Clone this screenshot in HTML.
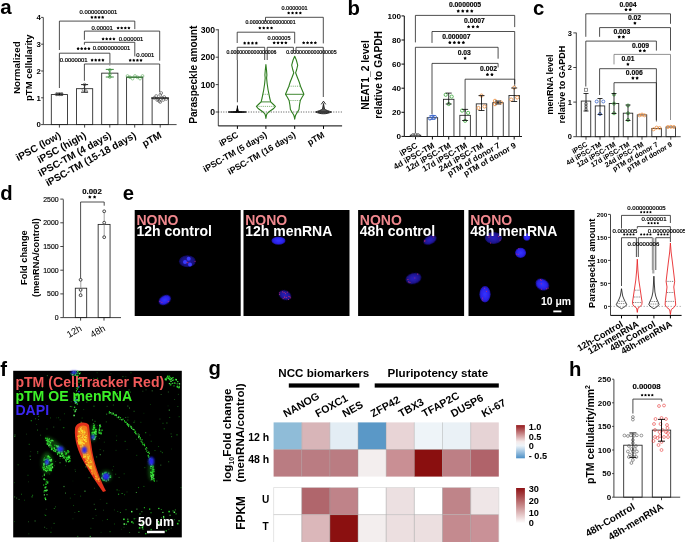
<!DOCTYPE html>
<html><head><meta charset="utf-8"><style>
html,body{margin:0;padding:0;background:#fff;width:685px;height:542px;overflow:hidden}
svg{display:block;will-change:transform}
text{font-family:"Liberation Sans",sans-serif;font-weight:bold}
</style></head><body>
<svg width="685" height="542" viewBox="0 0 685 542">
<defs>
<filter id="bl05" x="-50%" y="-50%" width="200%" height="200%"><feGaussianBlur stdDeviation="0.6"/></filter>
<filter id="bl1" x="-50%" y="-50%" width="200%" height="200%"><feGaussianBlur stdDeviation="0.8"/></filter>
<filter id="bl2" x="-50%" y="-50%" width="200%" height="200%"><feGaussianBlur stdDeviation="1.5"/></filter>
</defs>
<text x="0.3" y="14.4" font-size="20.5">a</text>
<text x="347.5" y="14.5" font-size="20.3">b</text>
<text x="533" y="14.6" font-size="20.3">c</text>
<text x="0.3" y="200.3" font-size="20.3">d</text>
<text x="122.7" y="199.9" font-size="20.3">e</text>
<text x="0.2" y="375.5" font-size="20.3">f</text>
<text x="208.5" y="374.8" font-size="20.3">g</text>
<text x="569" y="375.7" font-size="20.3">h</text>
<line x1="43.3" y1="17.5" x2="43.3" y2="124.6" stroke="#222" stroke-width="0.85"/>
<line x1="41.1" y1="124.6" x2="43.3" y2="124.6" stroke="#222" stroke-width="0.85"/>
<text x="40.9" y="127.41" font-size="7.8" text-anchor="end">0</text>
<line x1="41.1" y1="97.8" x2="43.3" y2="97.8" stroke="#222" stroke-width="0.85"/>
<text x="40.9" y="100.61" font-size="7.8" text-anchor="end">1</text>
<line x1="41.1" y1="71" x2="43.3" y2="71" stroke="#222" stroke-width="0.85"/>
<text x="40.9" y="73.81" font-size="7.8" text-anchor="end">2</text>
<line x1="41.1" y1="44.2" x2="43.3" y2="44.2" stroke="#222" stroke-width="0.85"/>
<text x="40.9" y="47.01" font-size="7.8" text-anchor="end">3</text>
<line x1="41.1" y1="17.4" x2="43.3" y2="17.4" stroke="#222" stroke-width="0.85"/>
<text x="40.9" y="20.21" font-size="7.8" text-anchor="end">4</text>
<line x1="43.3" y1="124.6" x2="176.6" y2="124.6" stroke="#222" stroke-width="0.85"/>
<line x1="59.4" y1="124.6" x2="59.4" y2="127.6" stroke="#222" stroke-width="0.85"/>
<line x1="84.6" y1="124.6" x2="84.6" y2="127.6" stroke="#222" stroke-width="0.85"/>
<line x1="109.8" y1="124.6" x2="109.8" y2="127.6" stroke="#222" stroke-width="0.85"/>
<line x1="134.7" y1="124.6" x2="134.7" y2="127.6" stroke="#222" stroke-width="0.85"/>
<line x1="160.2" y1="124.6" x2="160.2" y2="127.6" stroke="#222" stroke-width="0.85"/>
<rect x="51.3" y="94.58" width="16.2" height="30.02" fill="none" stroke="#222" stroke-width="0.85"/>
<rect x="76.5" y="88.69" width="16.2" height="35.91" fill="none" stroke="#222" stroke-width="0.85"/>
<rect x="101.7" y="73.14" width="16.2" height="51.46" fill="none" stroke="#222" stroke-width="0.85"/>
<rect x="126.6" y="77.16" width="16.2" height="47.44" fill="none" stroke="#222" stroke-width="0.85"/>
<rect x="152.1" y="98.07" width="16.2" height="26.53" fill="none" stroke="#222" stroke-width="0.85"/>
<path d="M59.4 50V21.1H134.8V29.1" stroke="#222" stroke-width="0.8" fill="none"/>
<path d="M84.4 39.9V31.1H159.7V60.7" stroke="#222" stroke-width="0.8" fill="none"/>
<path d="M84.4 44.7V42.3H134.8V56.4" stroke="#222" stroke-width="0.8" fill="none"/>
<path d="M59.4 88V53.2H109.9V63.2" stroke="#222" stroke-width="0.8" fill="none"/>
<path d="M84.4 80.8V64H159.7V92" stroke="#222" stroke-width="0.8" fill="none"/>
<text x="98.4" y="14.02" font-size="5.9" style="font-weight:normal" text-anchor="middle" stroke="#000" stroke-width="0.22">0.0000000001</text>
<path d="M91.9 15.76 L92.48 16.56 L93.42 16.87 L92.84 17.67 L92.84 18.65 L91.9 18.35 L90.96 18.65 L90.96 17.67 L90.38 16.87 L91.32 16.56ZM95.5 15.76 L96.08 16.56 L97.02 16.87 L96.44 17.67 L96.44 18.65 L95.5 18.35 L94.56 18.65 L94.56 17.67 L93.98 16.87 L94.92 16.56ZM99.1 15.76 L99.68 16.56 L100.62 16.87 L100.04 17.67 L100.04 18.65 L99.1 18.35 L98.16 18.65 L98.16 17.67 L97.58 16.87 L98.52 16.56ZM102.7 15.76 L103.28 16.56 L104.22 16.87 L103.64 17.67 L103.64 18.65 L102.7 18.35 L101.76 18.65 L101.76 17.67 L101.18 16.87 L102.12 16.56Z" fill="#000"/>
<text x="102.2" y="29.62" font-size="5.9" style="font-weight:normal" text-anchor="middle" stroke="#000" stroke-width="0.22">0.00001</text>
<path d="M118.1 26.46 L118.68 27.26 L119.62 27.57 L119.04 28.37 L119.04 29.35 L118.1 29.05 L117.16 29.35 L117.16 28.37 L116.58 27.57 L117.52 27.26ZM121.7 26.46 L122.28 27.26 L123.22 27.57 L122.64 28.37 L122.64 29.35 L121.7 29.05 L120.76 29.35 L120.76 28.37 L120.18 27.57 L121.12 27.26ZM125.3 26.46 L125.88 27.26 L126.82 27.57 L126.24 28.37 L126.24 29.35 L125.3 29.05 L124.36 29.35 L124.36 28.37 L123.78 27.57 L124.72 27.26ZM128.9 26.46 L129.48 27.26 L130.42 27.57 L129.84 28.37 L129.84 29.35 L128.9 29.05 L127.96 29.35 L127.96 28.37 L127.38 27.57 L128.32 27.26Z" fill="#000"/>
<path d="M103.1 37.36 L103.68 38.16 L104.62 38.47 L104.04 39.27 L104.04 40.25 L103.1 39.95 L102.16 40.25 L102.16 39.27 L101.58 38.47 L102.52 38.16ZM106.7 37.36 L107.28 38.16 L108.22 38.47 L107.64 39.27 L107.64 40.25 L106.7 39.95 L105.76 40.25 L105.76 39.27 L105.18 38.47 L106.12 38.16ZM110.3 37.36 L110.88 38.16 L111.82 38.47 L111.24 39.27 L111.24 40.25 L110.3 39.95 L109.36 40.25 L109.36 39.27 L108.78 38.47 L109.72 38.16ZM113.9 37.36 L114.48 38.16 L115.42 38.47 L114.84 39.27 L114.84 40.25 L113.9 39.95 L112.96 40.25 L112.96 39.27 L112.38 38.47 L113.32 38.16Z" fill="#000"/>
<text x="131" y="40.72" font-size="5.9" style="font-weight:normal" text-anchor="middle" stroke="#000" stroke-width="0.22">0.000001</text>
<path d="M78.1 47.06 L78.68 47.86 L79.62 48.17 L79.04 48.97 L79.04 49.95 L78.1 49.65 L77.16 49.95 L77.16 48.97 L76.58 48.17 L77.52 47.86ZM81.7 47.06 L82.28 47.86 L83.22 48.17 L82.64 48.97 L82.64 49.95 L81.7 49.65 L80.76 49.95 L80.76 48.97 L80.18 48.17 L81.12 47.86ZM85.3 47.06 L85.88 47.86 L86.82 48.17 L86.24 48.97 L86.24 49.95 L85.3 49.65 L84.36 49.95 L84.36 48.97 L83.78 48.17 L84.72 47.86ZM88.9 47.06 L89.48 47.86 L90.42 48.17 L89.84 48.97 L89.84 49.95 L88.9 49.65 L87.96 49.95 L87.96 48.97 L87.38 48.17 L88.32 47.86Z" fill="#000"/>
<text x="111.5" y="50.32" font-size="5.9" style="font-weight:normal" text-anchor="middle" stroke="#000" stroke-width="0.22">0.0000000001</text>
<text x="145.3" y="56.92" font-size="5.9" style="font-weight:normal" text-anchor="middle" stroke="#000" stroke-width="0.22">0.0001</text>
<text x="73.7" y="61.62" font-size="5.9" style="font-weight:normal" text-anchor="middle" stroke="#000" stroke-width="0.22">0.0000001</text>
<path d="M92.1 58.56 L92.68 59.36 L93.62 59.67 L93.04 60.47 L93.04 61.45 L92.1 61.15 L91.16 61.45 L91.16 60.47 L90.58 59.67 L91.52 59.36ZM95.7 58.56 L96.28 59.36 L97.22 59.67 L96.64 60.47 L96.64 61.45 L95.7 61.15 L94.76 61.45 L94.76 60.47 L94.18 59.67 L95.12 59.36ZM99.3 58.56 L99.88 59.36 L100.82 59.67 L100.24 60.47 L100.24 61.45 L99.3 61.15 L98.36 61.45 L98.36 60.47 L97.78 59.67 L98.72 59.36ZM102.9 58.56 L103.48 59.36 L104.42 59.67 L103.84 60.47 L103.84 61.45 L102.9 61.15 L101.96 61.45 L101.96 60.47 L101.38 59.67 L102.32 59.36Z" fill="#000"/>
<path d="M130.2 58.76 L130.78 59.56 L131.72 59.87 L131.14 60.67 L131.14 61.65 L130.2 61.35 L129.26 61.65 L129.26 60.67 L128.68 59.87 L129.62 59.56ZM133.8 58.76 L134.38 59.56 L135.32 59.87 L134.74 60.67 L134.74 61.65 L133.8 61.35 L132.86 61.65 L132.86 60.67 L132.28 59.87 L133.22 59.56ZM137.4 58.76 L137.98 59.56 L138.92 59.87 L138.34 60.67 L138.34 61.65 L137.4 61.35 L136.46 61.65 L136.46 60.67 L135.88 59.87 L136.82 59.56ZM141 58.76 L141.58 59.56 L142.52 59.87 L141.94 60.67 L141.94 61.65 L141 61.35 L140.06 61.65 L140.06 60.67 L139.48 59.87 L140.42 59.56Z" fill="#000"/>
<path d="M55.9 93.2H62.9M59.4 93.2V95M55.9 95H62.9" stroke="#000" stroke-width="0.9" fill="none"/>
<circle cx="56.4" cy="94.3" r="1.4" stroke="#444" stroke-width="0.6" fill="none"/>
<circle cx="59.4" cy="94.3" r="1.4" stroke="#444" stroke-width="0.6" fill="none"/>
<circle cx="61.9" cy="94.3" r="1.4" stroke="#444" stroke-width="0.6" fill="none"/>
<path d="M81.1 84.6H88.1M84.6 84.6V92.2M81.1 92.2H88.1" stroke="#000" stroke-width="0.9" fill="none"/>
<circle cx="84.6" cy="84.6" r="1.4" stroke="#444" stroke-width="0.6" fill="none"/>
<circle cx="83.5" cy="89.6" r="1.4" stroke="#444" stroke-width="0.6" fill="none"/>
<circle cx="86" cy="91.2" r="1.4" stroke="#444" stroke-width="0.6" fill="none"/>
<path d="M105.8 69.4H113.8M109.8 69.4V77M105.8 77H113.8" stroke="#2a7a2a" stroke-width="0.9" fill="none"/>
<circle cx="109.8" cy="70" r="1.4" stroke="#3a9a3a" stroke-width="0.6" fill="none"/>
<circle cx="109.8" cy="74.2" r="1.4" stroke="#3a9a3a" stroke-width="0.6" fill="none"/>
<circle cx="109.8" cy="77" r="1.4" stroke="#3a9a3a" stroke-width="0.6" fill="none"/>
<line x1="109.8" y1="63.5" x2="109.8" y2="66" stroke="#888" stroke-width="0.6"/>
<line x1="108.3" y1="63.5" x2="111.3" y2="63.5" stroke="#888" stroke-width="0.6"/>
<circle cx="127.5" cy="76" r="1.4" stroke="#5aaa5a" stroke-width="0.6" fill="none"/>
<circle cx="130" cy="77.3" r="1.4" stroke="#5aaa5a" stroke-width="0.6" fill="none"/>
<circle cx="132.5" cy="78.6" r="1.4" stroke="#5aaa5a" stroke-width="0.6" fill="none"/>
<circle cx="135" cy="76" r="1.4" stroke="#5aaa5a" stroke-width="0.6" fill="none"/>
<circle cx="137.5" cy="77.3" r="1.4" stroke="#5aaa5a" stroke-width="0.6" fill="none"/>
<circle cx="140" cy="78.6" r="1.4" stroke="#5aaa5a" stroke-width="0.6" fill="none"/>
<circle cx="142.5" cy="76" r="1.4" stroke="#5aaa5a" stroke-width="0.6" fill="none"/>
<line x1="126.5" y1="77.2" x2="143" y2="77.2" stroke="#2a7a2a" stroke-width="0.9"/>
<circle cx="154.2" cy="98" r="1.4" stroke="#444" stroke-width="0.6" fill="none"/>
<circle cx="156.2" cy="96" r="1.4" stroke="#444" stroke-width="0.6" fill="none"/>
<circle cx="158.2" cy="99" r="1.4" stroke="#444" stroke-width="0.6" fill="none"/>
<circle cx="160.2" cy="95" r="1.4" stroke="#444" stroke-width="0.6" fill="none"/>
<circle cx="162.2" cy="98" r="1.4" stroke="#444" stroke-width="0.6" fill="none"/>
<circle cx="164.2" cy="97" r="1.4" stroke="#444" stroke-width="0.6" fill="none"/>
<circle cx="166.2" cy="99" r="1.4" stroke="#444" stroke-width="0.6" fill="none"/>
<circle cx="159.2" cy="101" r="1.4" stroke="#444" stroke-width="0.6" fill="none"/>
<circle cx="161.2" cy="93" r="1.4" stroke="#444" stroke-width="0.6" fill="none"/>
<circle cx="163.2" cy="100" r="1.4" stroke="#444" stroke-width="0.6" fill="none"/>
<circle cx="157.2" cy="100" r="1.4" stroke="#444" stroke-width="0.6" fill="none"/>
<circle cx="160.2" cy="102" r="1.4" stroke="#444" stroke-width="0.6" fill="none"/>
<line x1="151" y1="98" x2="169" y2="98" stroke="#000" stroke-width="0.9"/>
<text x="20.5" y="67.7" font-size="9.8" text-anchor="middle" transform="rotate(-90 20.5 67.7)">Normalized</text>
<text x="32.1" y="67.7" font-size="9.5" text-anchor="middle" transform="rotate(-90 32.1 67.7)">pTM cellularity</text>
<text x="61.6" y="137.3" font-size="10" text-anchor="end" transform="rotate(-29 61.6 137.3)">iPSC (low)</text>
<text x="86.8" y="137.3" font-size="10" text-anchor="end" transform="rotate(-29 86.8 137.3)">iPSC (high)</text>
<text x="112" y="137.3" font-size="10" text-anchor="end" transform="rotate(-29 112 137.3)">iPSC-TM (4 days)</text>
<text x="136.9" y="137.3" font-size="10" text-anchor="end" transform="rotate(-29 136.9 137.3)">iPSC-TM (15-18 days)</text>
<text x="162.4" y="137.3" font-size="10" text-anchor="end" transform="rotate(-29 162.4 137.3)">pTM</text>
<line x1="218.3" y1="29.2" x2="218.3" y2="125.9" stroke="#222" stroke-width="0.85"/>
<line x1="215.7" y1="112" x2="218.3" y2="112" stroke="#222" stroke-width="0.85"/>
<text x="215" y="115.1" font-size="8.6" text-anchor="end">0</text>
<line x1="215.7" y1="84.6" x2="218.3" y2="84.6" stroke="#222" stroke-width="0.85"/>
<text x="215" y="87.7" font-size="8.6" text-anchor="end">100</text>
<line x1="215.7" y1="57.2" x2="218.3" y2="57.2" stroke="#222" stroke-width="0.85"/>
<text x="215" y="60.3" font-size="8.6" text-anchor="end">200</text>
<line x1="215.7" y1="29.8" x2="218.3" y2="29.8" stroke="#222" stroke-width="0.85"/>
<text x="215" y="32.9" font-size="8.6" text-anchor="end">300</text>
<line x1="218.3" y1="125.9" x2="342.1" y2="125.9" stroke="#000" stroke-width="1"/>
<line x1="237.4" y1="125.9" x2="237.4" y2="128.9" stroke="#000" stroke-width="1"/>
<line x1="265.9" y1="125.9" x2="265.9" y2="128.9" stroke="#000" stroke-width="1"/>
<line x1="294.7" y1="125.9" x2="294.7" y2="128.9" stroke="#000" stroke-width="1"/>
<line x1="323.5" y1="125.9" x2="323.5" y2="128.9" stroke="#000" stroke-width="1"/>
<line x1="218.3" y1="112" x2="342" y2="112" stroke="#000" stroke-width="0.7" stroke-dasharray="1 1.5"/>
<path d="M265.5 21.7V17.3H323.3V43.4" stroke="#222" stroke-width="0.8" fill="none"/>
<path d="M237.2 43V32.2H294.7V43.4" stroke="#222" stroke-width="0.8" fill="none"/>
<path d="M237.2 60V47.3H264.7V60" stroke="#222" stroke-width="0.8" fill="none"/>
<path d="M267.2 60V47.3H293.4V51" stroke="#222" stroke-width="0.8" fill="none"/>
<path d="M296 51V47.3H323.3V97" stroke="#222" stroke-width="0.8" fill="none"/>
<text x="294.5" y="10.48" font-size="5.5" style="font-weight:normal" text-anchor="middle" stroke="#000" stroke-width="0.22">0.0000001</text>
<path d="M288.65 11.46 L289.23 12.26 L290.17 12.57 L289.59 13.37 L289.59 14.35 L288.65 14.05 L287.71 14.35 L287.71 13.37 L287.13 12.57 L288.07 12.26ZM292.55 11.46 L293.13 12.26 L294.07 12.57 L293.49 13.37 L293.49 14.35 L292.55 14.05 L291.61 14.35 L291.61 13.37 L291.03 12.57 L291.97 12.26ZM296.45 11.46 L297.03 12.26 L297.97 12.57 L297.39 13.37 L297.39 14.35 L296.45 14.05 L295.51 14.35 L295.51 13.37 L294.93 12.57 L295.87 12.26ZM300.35 11.46 L300.93 12.26 L301.87 12.57 L301.29 13.37 L301.29 14.35 L300.35 14.05 L299.41 14.35 L299.41 13.37 L298.83 12.57 L299.77 12.26Z" fill="#000"/>
<text x="270.5" y="24.45" font-size="5.15" style="font-weight:normal" text-anchor="middle" stroke="#000" stroke-width="0.22">0.0000000000000001</text>
<path d="M259.85 26.46 L260.43 27.26 L261.37 27.57 L260.79 28.37 L260.79 29.35 L259.85 29.05 L258.91 29.35 L258.91 28.37 L258.33 27.57 L259.27 27.26ZM263.75 26.46 L264.33 27.26 L265.27 27.57 L264.69 28.37 L264.69 29.35 L263.75 29.05 L262.81 29.35 L262.81 28.37 L262.23 27.57 L263.17 27.26ZM267.65 26.46 L268.23 27.26 L269.17 27.57 L268.59 28.37 L268.59 29.35 L267.65 29.05 L266.71 29.35 L266.71 28.37 L266.13 27.57 L267.07 27.26ZM271.55 26.46 L272.13 27.26 L273.07 27.57 L272.49 28.37 L272.49 29.35 L271.55 29.05 L270.61 29.35 L270.61 28.37 L270.03 27.57 L270.97 27.26Z" fill="#000"/>
<text x="279" y="40.38" font-size="5.5" style="font-weight:normal" text-anchor="middle" stroke="#000" stroke-width="0.22">0.000005</text>
<path d="M274.15 41.26 L274.73 42.06 L275.67 42.37 L275.09 43.17 L275.09 44.15 L274.15 43.85 L273.21 44.15 L273.21 43.17 L272.63 42.37 L273.57 42.06ZM278.05 41.26 L278.63 42.06 L279.57 42.37 L278.99 43.17 L278.99 44.15 L278.05 43.85 L277.11 44.15 L277.11 43.17 L276.53 42.37 L277.47 42.06ZM281.95 41.26 L282.53 42.06 L283.47 42.37 L282.89 43.17 L282.89 44.15 L281.95 43.85 L281.01 44.15 L281.01 43.17 L280.43 42.37 L281.37 42.06ZM285.85 41.26 L286.43 42.06 L287.37 42.37 L286.79 43.17 L286.79 44.15 L285.85 43.85 L284.91 44.15 L284.91 43.17 L284.33 42.37 L285.27 42.06Z" fill="#000"/>
<path d="M244.65 41.56 L245.23 42.36 L246.17 42.67 L245.59 43.47 L245.59 44.45 L244.65 44.15 L243.71 44.45 L243.71 43.47 L243.13 42.67 L244.07 42.36ZM248.55 41.56 L249.13 42.36 L250.07 42.67 L249.49 43.47 L249.49 44.45 L248.55 44.15 L247.61 44.45 L247.61 43.47 L247.03 42.67 L247.97 42.36ZM252.45 41.56 L253.03 42.36 L253.97 42.67 L253.39 43.47 L253.39 44.45 L252.45 44.15 L251.51 44.45 L251.51 43.47 L250.93 42.67 L251.87 42.36ZM256.35 41.56 L256.93 42.36 L257.87 42.67 L257.29 43.47 L257.29 44.45 L256.35 44.15 L255.41 44.45 L255.41 43.47 L254.83 42.67 L255.77 42.36Z" fill="#000"/>
<path d="M303.65 41.26 L304.23 42.06 L305.17 42.37 L304.59 43.17 L304.59 44.15 L303.65 43.85 L302.71 44.15 L302.71 43.17 L302.13 42.37 L303.07 42.06ZM307.55 41.26 L308.13 42.06 L309.07 42.37 L308.49 43.17 L308.49 44.15 L307.55 43.85 L306.61 44.15 L306.61 43.17 L306.03 42.37 L306.97 42.06ZM311.45 41.26 L312.03 42.06 L312.97 42.37 L312.39 43.17 L312.39 44.15 L311.45 43.85 L310.51 44.15 L310.51 43.17 L309.93 42.37 L310.87 42.06ZM315.35 41.26 L315.93 42.06 L316.87 42.37 L316.29 43.17 L316.29 44.15 L315.35 43.85 L314.41 44.15 L314.41 43.17 L313.83 42.37 L314.77 42.06Z" fill="#000"/>
<text x="251.4" y="54.45" font-size="5.15" style="font-weight:normal" text-anchor="middle" stroke="#000" stroke-width="0.22">0.0000000000000006</text>
<text x="311.4" y="54.47" font-size="5.2" style="font-weight:normal" text-anchor="middle" stroke="#000" stroke-width="0.22">0.0000000000000005</text>
<line x1="237.4" y1="60" x2="237.4" y2="102.3" stroke="#222" stroke-width="0.8"/>
<path d="M228.3 112 Q237.4 110.9 246.3 112 Q237.4 113 228.3 112Z" stroke="#000" stroke-width="0.9" fill="#000"/>
<line x1="237.4" y1="105.5" x2="237.4" y2="112" stroke="#000" stroke-width="1"/>
<path d="M236 111 L237.4 106 L238.8 111Z" stroke="none" stroke-width="0" fill="#000"/>
<path d="M265.9 64.5 L266.5 70 L266.9 75 L266.6 78 L267.2 84 L268.1 90 L269 94.3 L269.7 98 L270.7 101.9 L272.9 104 L275.4 106.4 L273.7 108.5 L270.1 111 L267.3 113.3 L266.5 115 L265.9 118.5 L265.3 115 L264.5 113.3 L261.7 111 L258.1 108.5 L256.4 106.4 L258.9 104 L261.1 101.9 L262.1 98 L262.8 94.3 L263.7 90 L264.6 84 L265.2 78 L264.9 75 L265.3 70Z" stroke="#2e7d1e" stroke-width="1.1" fill="none" stroke-linejoin="round"/>
<line x1="261.1" y1="101.9" x2="270.7" y2="101.9" stroke="#2e7d1e" stroke-width="0.9"/>
<line x1="263.3" y1="94.3" x2="268.5" y2="94.3" stroke="#2e7d1e" stroke-width="0.6" stroke-dasharray="1 0.9"/>
<line x1="257.5" y1="106.4" x2="274.3" y2="106.4" stroke="#2e7d1e" stroke-width="0.6" stroke-dasharray="1 0.9"/>
<path d="M294.7 56.2 L296.3 60 L297.7 65.2 L296.7 69.5 L295.6 72.8 L297.2 77 L299.2 82 L300.5 86.2 L302.1 90 L303.9 94.3 L301.9 97.5 L300.3 100.5 L299.5 105 L299 109.5 L297.2 112.5 L295.7 115 L295.2 116.5 L294.7 119.2 L294.2 116.5 L293.7 115 L292.2 112.5 L290.4 109.5 L289.9 105 L289.1 100.5 L287.5 97.5 L285.5 94.3 L287.3 90 L288.9 86.2 L290.2 82 L292.2 77 L293.8 72.8 L292.7 69.5 L291.7 65.2 L293.1 60Z" stroke="#2e7d1e" stroke-width="1.1" fill="none" stroke-linejoin="round"/>
<line x1="285.6" y1="94.3" x2="303.8" y2="94.3" stroke="#2e7d1e" stroke-width="0.9"/>
<line x1="289.4" y1="86.2" x2="300" y2="86.2" stroke="#2e7d1e" stroke-width="0.6" stroke-dasharray="1 0.9"/>
<line x1="289.6" y1="100.5" x2="299.8" y2="100.5" stroke="#2e7d1e" stroke-width="0.6" stroke-dasharray="1 0.9"/>
<path d="M315.5 112 C318.5 110.8 321 110.3 322.5 109 L323.5 103.5 L324.5 109 C326 110.3 328.5 110.8 331.5 112 C328.5 113.3 326 113.8 323.5 113.8 C321 113.8 318.5 113.3 315.5 112Z" stroke="#111" stroke-width="0.8" fill="#555"/>
<path d="M321.3 104.3 L323.5 101.2 L325.7 104.3" stroke="#111" stroke-width="0.9" fill="none"/>
<line x1="318" y1="112" x2="329" y2="112" stroke="#000" stroke-width="0.6"/>
<text x="197.2" y="74.75" font-size="10.1" text-anchor="middle" transform="rotate(-90 197.2 74.75)">Paraspeckle amount</text>
<text x="239" y="136.6" font-size="8.8" text-anchor="end" transform="rotate(-30 239 136.6)">iPSC</text>
<text x="267.5" y="136.6" font-size="8.8" text-anchor="end" transform="rotate(-30 267.5 136.6)">iPSC-TM (5 days)</text>
<text x="296.3" y="136.6" font-size="8.8" text-anchor="end" transform="rotate(-30 296.3 136.6)">iPSC-TM (16 days)</text>
<text x="325.1" y="136.6" font-size="8.8" text-anchor="end" transform="rotate(-30 325.1 136.6)">pTM</text>
<line x1="404.3" y1="16.1" x2="404.3" y2="136.4" stroke="#111" stroke-width="1.05"/>
<line x1="401.5" y1="136.4" x2="404.3" y2="136.4" stroke="#111" stroke-width="1.05"/>
<text x="401.1" y="139.32" font-size="8.1" text-anchor="end">0</text>
<line x1="401.5" y1="112.3" x2="404.3" y2="112.3" stroke="#111" stroke-width="1.05"/>
<text x="401.1" y="115.22" font-size="8.1" text-anchor="end">20</text>
<line x1="401.5" y1="88.2" x2="404.3" y2="88.2" stroke="#111" stroke-width="1.05"/>
<text x="401.1" y="91.12" font-size="8.1" text-anchor="end">40</text>
<line x1="401.5" y1="64.1" x2="404.3" y2="64.1" stroke="#111" stroke-width="1.05"/>
<text x="401.1" y="67.02" font-size="8.1" text-anchor="end">60</text>
<line x1="401.5" y1="40" x2="404.3" y2="40" stroke="#111" stroke-width="1.05"/>
<text x="401.1" y="42.92" font-size="8.1" text-anchor="end">80</text>
<line x1="401.5" y1="15.9" x2="404.3" y2="15.9" stroke="#111" stroke-width="1.05"/>
<text x="401.1" y="18.82" font-size="8.1" text-anchor="end">100</text>
<line x1="404.3" y1="136.4" x2="522" y2="136.4" stroke="#111" stroke-width="1.05"/>
<line x1="415.5" y1="136.4" x2="415.5" y2="139.4" stroke="#111" stroke-width="1.05"/>
<line x1="432.4" y1="136.4" x2="432.4" y2="139.4" stroke="#111" stroke-width="1.05"/>
<line x1="448.7" y1="136.4" x2="448.7" y2="139.4" stroke="#111" stroke-width="1.05"/>
<line x1="465.1" y1="136.4" x2="465.1" y2="139.4" stroke="#111" stroke-width="1.05"/>
<line x1="481.5" y1="136.4" x2="481.5" y2="139.4" stroke="#111" stroke-width="1.05"/>
<line x1="498" y1="136.4" x2="498" y2="139.4" stroke="#111" stroke-width="1.05"/>
<line x1="514.2" y1="136.4" x2="514.2" y2="139.4" stroke="#111" stroke-width="1.05"/>
<rect x="410.25" y="135.19" width="10.5" height="1.21" fill="none" stroke="#222" stroke-width="0.85"/>
<rect x="427.15" y="117.72" width="10.5" height="18.68" fill="none" stroke="#222" stroke-width="0.85"/>
<rect x="443.45" y="99.29" width="10.5" height="37.11" fill="none" stroke="#222" stroke-width="0.85"/>
<rect x="459.85" y="115.31" width="10.5" height="21.09" fill="none" stroke="#222" stroke-width="0.85"/>
<rect x="476.25" y="103.87" width="10.5" height="32.53" fill="none" stroke="#222" stroke-width="0.85"/>
<rect x="492.75" y="102.66" width="10.5" height="33.74" fill="none" stroke="#222" stroke-width="0.85"/>
<rect x="508.95" y="95.43" width="10.5" height="40.97" fill="none" stroke="#222" stroke-width="0.85"/>
<path d="M415.4 42.4V15.4H514.7V27.1" stroke="#222" stroke-width="0.8" fill="none"/>
<path d="M432 42.9V31.5H514.7V84" stroke="#222" stroke-width="0.8" fill="none"/>
<path d="M415.4 133V47.3H498.1V58.7" stroke="#222" stroke-width="0.8" fill="none"/>
<path d="M432 114V63.4H498.1V67.4" stroke="#222" stroke-width="0.8" fill="none"/>
<path d="M465.1 112V79.2H514.7V86" stroke="#222" stroke-width="0.8" fill="none"/>
<text x="465" y="7.35" font-size="6.8" text-anchor="middle" stroke="#000" stroke-width="0.15">0.0000005</text>
<path d="M458.25 9.33 L458.89 10.2 L459.91 10.53 L459.28 11.41 L459.28 12.49 L458.25 12.16 L457.22 12.49 L457.22 11.41 L456.59 10.53 L457.61 10.2ZM462.75 9.33 L463.39 10.2 L464.41 10.53 L463.78 11.41 L463.78 12.49 L462.75 12.16 L461.72 12.49 L461.72 11.41 L461.09 10.53 L462.11 10.2ZM467.25 9.33 L467.89 10.2 L468.91 10.53 L468.28 11.41 L468.28 12.49 L467.25 12.16 L466.22 12.49 L466.22 11.41 L465.59 10.53 L466.61 10.2ZM471.75 9.33 L472.39 10.2 L473.41 10.53 L472.78 11.41 L472.78 12.49 L471.75 12.16 L470.72 12.49 L470.72 11.41 L470.09 10.53 L471.11 10.2Z" fill="#000"/>
<text x="474.4" y="23.15" font-size="6.8" text-anchor="middle" stroke="#000" stroke-width="0.15">0.0007</text>
<path d="M468.6 25.03 L469.24 25.9 L470.26 26.23 L469.63 27.11 L469.63 28.19 L468.6 27.86 L467.57 28.19 L467.57 27.11 L466.94 26.23 L467.96 25.9ZM473.1 25.03 L473.74 25.9 L474.76 26.23 L474.13 27.11 L474.13 28.19 L473.1 27.86 L472.07 28.19 L472.07 27.11 L471.44 26.23 L472.46 25.9ZM477.6 25.03 L478.24 25.9 L479.26 26.23 L478.63 27.11 L478.63 28.19 L477.6 27.86 L476.57 28.19 L476.57 27.11 L475.94 26.23 L476.96 25.9Z" fill="#000"/>
<text x="456.4" y="38.85" font-size="6.8" text-anchor="middle" stroke="#000" stroke-width="0.15">0.000007</text>
<path d="M449.85 40.82 L450.49 41.7 L451.51 42.03 L450.88 42.91 L450.88 43.99 L449.85 43.66 L448.82 43.99 L448.82 42.91 L448.19 42.03 L449.21 41.7ZM454.35 40.82 L454.99 41.7 L456.01 42.03 L455.38 42.91 L455.38 43.99 L454.35 43.66 L453.32 43.99 L453.32 42.91 L452.69 42.03 L453.71 41.7ZM458.85 40.82 L459.49 41.7 L460.51 42.03 L459.88 42.91 L459.88 43.99 L458.85 43.66 L457.82 43.99 L457.82 42.91 L457.19 42.03 L458.21 41.7ZM463.35 40.82 L463.99 41.7 L465.01 42.03 L464.38 42.91 L464.38 43.99 L463.35 43.66 L462.32 43.99 L462.32 42.91 L461.69 42.03 L462.71 41.7Z" fill="#000"/>
<text x="464.3" y="54.95" font-size="6.8" text-anchor="middle" stroke="#000" stroke-width="0.15">0.03</text>
<path d="M465.1 56.52 L465.74 57.4 L466.76 57.73 L466.13 58.61 L466.13 59.69 L465.1 59.36 L464.07 59.69 L464.07 58.61 L463.44 57.73 L464.46 57.4Z" fill="#000"/>
<text x="488.5" y="71.15" font-size="6.8" text-anchor="middle" stroke="#000" stroke-width="0.15">0.002</text>
<path d="M487.45 72.83 L488.09 73.7 L489.11 74.03 L488.48 74.91 L488.48 75.99 L487.45 75.66 L486.42 75.99 L486.42 74.91 L485.79 74.03 L486.81 73.7ZM491.95 72.83 L492.59 73.7 L493.61 74.03 L492.98 74.91 L492.98 75.99 L491.95 75.66 L490.92 75.99 L490.92 74.91 L490.29 74.03 L491.31 73.7Z" fill="#000"/>
<circle cx="413" cy="135.2" r="1.6" stroke="#555" stroke-width="0.8" fill="none"/>
<circle cx="415.5" cy="134.8" r="1.6" stroke="#555" stroke-width="0.8" fill="none"/>
<circle cx="418" cy="135.2" r="1.6" stroke="#555" stroke-width="0.8" fill="none"/>
<circle cx="429.9" cy="118.5" r="1.6" stroke="#3a64c8" stroke-width="0.8" fill="none"/>
<circle cx="432.4" cy="116.5" r="1.6" stroke="#3a64c8" stroke-width="0.8" fill="none"/>
<circle cx="434.9" cy="117" r="1.6" stroke="#3a64c8" stroke-width="0.8" fill="none"/>
<circle cx="445.7" cy="94.8" r="1.6" stroke="#3aa83a" stroke-width="0.8" fill="none"/>
<circle cx="448.7" cy="104" r="1.6" stroke="#3aa83a" stroke-width="0.8" fill="none"/>
<circle cx="451.7" cy="96.6" r="1.6" stroke="#3aa83a" stroke-width="0.8" fill="none"/>
<circle cx="462.1" cy="110.6" r="1.6" stroke="#3aa83a" stroke-width="0.8" fill="none"/>
<circle cx="465.1" cy="120.8" r="1.6" stroke="#3aa83a" stroke-width="0.8" fill="none"/>
<circle cx="468.1" cy="112.9" r="1.6" stroke="#3aa83a" stroke-width="0.8" fill="none"/>
<circle cx="481.5" cy="95.6" r="1.6" stroke="#e8893a" stroke-width="0.8" fill="none"/>
<circle cx="478.5" cy="108" r="1.6" stroke="#e8893a" stroke-width="0.8" fill="none"/>
<circle cx="484.5" cy="106.5" r="1.6" stroke="#e8893a" stroke-width="0.8" fill="none"/>
<circle cx="495" cy="100.8" r="1.6" stroke="#e8893a" stroke-width="0.8" fill="none"/>
<circle cx="495" cy="104.2" r="1.6" stroke="#e8893a" stroke-width="0.8" fill="none"/>
<circle cx="501" cy="102.5" r="1.6" stroke="#e8893a" stroke-width="0.8" fill="none"/>
<circle cx="514.2" cy="87.6" r="1.6" stroke="#e8893a" stroke-width="0.8" fill="none"/>
<circle cx="511.2" cy="99.5" r="1.6" stroke="#e8893a" stroke-width="0.8" fill="none"/>
<circle cx="517.2" cy="97.5" r="1.6" stroke="#e8893a" stroke-width="0.8" fill="none"/>
<path d="M429.4 115.5H435.4M432.4 115.5V119.5M429.4 119.5H435.4" stroke="#3a64c8" stroke-width="0.8" fill="none"/>
<path d="M445.7 93.1H451.7M448.7 93.1V104M445.7 104H451.7" stroke="#000" stroke-width="0.8" fill="none"/>
<path d="M462.1 109.4H468.1M465.1 109.4V120.5M462.1 120.5H468.1" stroke="#000" stroke-width="0.8" fill="none"/>
<path d="M478.5 95.6H484.5M481.5 95.6V110.5M478.5 110.5H484.5" stroke="#000" stroke-width="0.8" fill="none"/>
<path d="M495 101H501M498 101V104M495 104H501" stroke="#000" stroke-width="0.8" fill="none"/>
<path d="M511.2 88H517.2M514.2 88V101.5M511.2 101.5H517.2" stroke="#000" stroke-width="0.8" fill="none"/>
<text x="369" y="74.9" font-size="10.2" text-anchor="middle" transform="rotate(-90 369 74.9)">NEAT1_2 level</text>
<text x="381.7" y="74.9" font-size="10.2" text-anchor="middle" transform="rotate(-90 381.7 74.9)">relative to GAPDH</text>
<text x="418.1" y="147" font-size="8.2" text-anchor="end" transform="rotate(-30 418.1 147)">iPSC</text>
<text x="435" y="147" font-size="8.2" text-anchor="end" transform="rotate(-30 435 147)">4d iPSC-TM</text>
<text x="451.3" y="147" font-size="8.2" text-anchor="end" transform="rotate(-30 451.3 147)">12d iPSC-TM</text>
<text x="467.7" y="147" font-size="8.2" text-anchor="end" transform="rotate(-30 467.7 147)">17d iPSC-TM</text>
<text x="484.1" y="147" font-size="8.2" text-anchor="end" transform="rotate(-30 484.1 147)">24d iPSC-TM</text>
<text x="500.6" y="147" font-size="8.2" text-anchor="end" transform="rotate(-30 500.6 147)">pTM of donor 7</text>
<text x="516.8" y="147" font-size="8.2" text-anchor="end" transform="rotate(-30 516.8 147)">pTM of donor 9</text>
<line x1="576.3" y1="32.7" x2="576.3" y2="136.7" stroke="#222" stroke-width="0.85"/>
<line x1="573.3" y1="136.7" x2="576.3" y2="136.7" stroke="#222" stroke-width="0.85"/>
<text x="571.8" y="139.4" font-size="7.5" text-anchor="end">0</text>
<line x1="573.3" y1="102.1" x2="576.3" y2="102.1" stroke="#222" stroke-width="0.85"/>
<text x="571.8" y="104.8" font-size="7.5" text-anchor="end">1</text>
<line x1="573.3" y1="67.5" x2="576.3" y2="67.5" stroke="#222" stroke-width="0.85"/>
<text x="571.8" y="70.2" font-size="7.5" text-anchor="end">2</text>
<line x1="573.3" y1="32.9" x2="576.3" y2="32.9" stroke="#222" stroke-width="0.85"/>
<text x="571.8" y="35.6" font-size="7.5" text-anchor="end">3</text>
<line x1="576.3" y1="136.7" x2="680.7" y2="136.7" stroke="#222" stroke-width="0.85"/>
<line x1="586" y1="136.7" x2="586" y2="139.7" stroke="#222" stroke-width="0.85"/>
<line x1="600" y1="136.7" x2="600" y2="139.7" stroke="#222" stroke-width="0.85"/>
<line x1="614" y1="136.7" x2="614" y2="139.7" stroke="#222" stroke-width="0.85"/>
<line x1="628" y1="136.7" x2="628" y2="139.7" stroke="#222" stroke-width="0.85"/>
<line x1="642" y1="136.7" x2="642" y2="139.7" stroke="#222" stroke-width="0.85"/>
<line x1="656.6" y1="136.7" x2="656.6" y2="139.7" stroke="#222" stroke-width="0.85"/>
<line x1="670.8" y1="136.7" x2="670.8" y2="139.7" stroke="#222" stroke-width="0.85"/>
<rect x="581.25" y="101.06" width="9.5" height="35.64" fill="none" stroke="#222" stroke-width="0.85"/>
<rect x="595.25" y="105.91" width="9.5" height="30.79" fill="none" stroke="#222" stroke-width="0.85"/>
<rect x="609.25" y="103.48" width="9.5" height="33.22" fill="none" stroke="#222" stroke-width="0.85"/>
<rect x="623.25" y="113.17" width="9.5" height="23.53" fill="none" stroke="#222" stroke-width="0.85"/>
<rect x="637.25" y="114.9" width="9.5" height="21.8" fill="none" stroke="#222" stroke-width="0.85"/>
<rect x="651.85" y="128.4" width="9.5" height="8.3" fill="none" stroke="#222" stroke-width="0.85"/>
<rect x="666.05" y="127.01" width="9.5" height="9.69" fill="none" stroke="#222" stroke-width="0.85"/>
<path d="M585.8 36.8V13.8H670.5V23.8" stroke="#222" stroke-width="0.8" fill="none"/>
<path d="M599.6 36.8V27.6H670.5V50.6" stroke="#222" stroke-width="0.8" fill="none"/>
<path d="M585.8 86.5V41.1H656.4V50.6" stroke="#222" stroke-width="0.8" fill="none"/>
<path d="M614 64.4V54.4H670.5V120" stroke="#777" stroke-width="0.8" fill="none"/>
<path d="M599.6 95V68.7H656.4V121.5" stroke="#222" stroke-width="0.8" fill="none"/>
<path d="M614 95V82.7H656.4V120" stroke="#222" stroke-width="0.8" fill="none"/>
<text x="628" y="7.05" font-size="6.8" text-anchor="middle" stroke="#000" stroke-width="0.15">0.004</text>
<path d="M626 7.92 L626.64 8.8 L627.66 9.13 L627.03 10.01 L627.03 11.09 L626 10.76 L624.97 11.09 L624.97 10.01 L624.34 9.13 L625.36 8.8ZM630.2 7.92 L630.84 8.8 L631.86 9.13 L631.23 10.01 L631.23 11.09 L630.2 10.76 L629.17 11.09 L629.17 10.01 L628.54 9.13 L629.56 8.8Z" fill="#000"/>
<text x="634.5" y="20.05" font-size="6.8" text-anchor="middle" stroke="#000" stroke-width="0.15">0.02</text>
<path d="M634.9 21.43 L635.54 22.3 L636.56 22.63 L635.93 23.51 L635.93 24.59 L634.9 24.26 L633.87 24.59 L633.87 23.51 L633.24 22.63 L634.26 22.3Z" fill="#000"/>
<text x="621.9" y="33.85" font-size="6.8" text-anchor="middle" stroke="#000" stroke-width="0.15">0.003</text>
<path d="M619.2 35.22 L619.84 36.1 L620.86 36.43 L620.23 37.31 L620.23 38.39 L619.2 38.06 L618.17 38.39 L618.17 37.31 L617.54 36.43 L618.56 36.1ZM623.4 35.22 L624.04 36.1 L625.06 36.43 L624.43 37.31 L624.43 38.39 L623.4 38.06 L622.37 38.39 L622.37 37.31 L621.74 36.43 L622.76 36.1Z" fill="#000"/>
<text x="640.5" y="48.15" font-size="6.8" text-anchor="middle" stroke="#000" stroke-width="0.15">0.009</text>
<path d="M640.2 49.02 L640.84 49.9 L641.86 50.23 L641.23 51.11 L641.23 52.19 L640.2 51.86 L639.17 52.19 L639.17 51.11 L638.54 50.23 L639.56 49.9ZM644.4 49.02 L645.04 49.9 L646.06 50.23 L645.43 51.11 L645.43 52.19 L644.4 51.86 L643.37 52.19 L643.37 51.11 L642.74 50.23 L643.76 49.9Z" fill="#000"/>
<text x="628" y="61.45" font-size="6.8" text-anchor="middle" stroke="#000" stroke-width="0.15">0.01</text>
<path d="M627.9 62.52 L628.54 63.4 L629.56 63.73 L628.93 64.61 L628.93 65.69 L627.9 65.36 L626.87 65.69 L626.87 64.61 L626.24 63.73 L627.26 63.4Z" fill="#000"/>
<text x="634.3" y="74.85" font-size="6.8" text-anchor="middle" stroke="#000" stroke-width="0.15">0.006</text>
<path d="M632.9 76.33 L633.54 77.2 L634.56 77.53 L633.93 78.41 L633.93 79.49 L632.9 79.16 L631.87 79.49 L631.87 78.41 L631.24 77.53 L632.26 77.2ZM637.1 76.33 L637.74 77.2 L638.76 77.53 L638.13 78.41 L638.13 79.49 L637.1 79.16 L636.07 79.49 L636.07 78.41 L635.44 77.53 L636.46 77.2Z" fill="#000"/>
<circle cx="586" cy="103.8" r="1.5" stroke="#777" stroke-width="0.8" fill="none"/>
<circle cx="586" cy="106.5" r="1.5" stroke="#777" stroke-width="0.8" fill="none"/>
<circle cx="586" cy="109.4" r="1.5" stroke="#777" stroke-width="0.8" fill="none"/>
<circle cx="596.7" cy="101.5" r="1.5" stroke="#3a64c8" stroke-width="0.8" fill="none"/>
<circle cx="603.3" cy="101.5" r="1.5" stroke="#3a64c8" stroke-width="0.8" fill="none"/>
<circle cx="600" cy="114" r="1.5" stroke="#3a64c8" stroke-width="0.8" fill="none"/>
<circle cx="614" cy="94.5" r="1.5" stroke="#3aa83a" stroke-width="0.8" fill="none"/>
<circle cx="614" cy="103.6" r="1.5" stroke="#3aa83a" stroke-width="0.8" fill="none"/>
<circle cx="614" cy="113.3" r="1.5" stroke="#3aa83a" stroke-width="0.8" fill="none"/>
<circle cx="628" cy="105.5" r="1.5" stroke="#3aa83a" stroke-width="0.8" fill="none"/>
<circle cx="628" cy="113.3" r="1.5" stroke="#3aa83a" stroke-width="0.8" fill="none"/>
<circle cx="628" cy="120" r="1.5" stroke="#3aa83a" stroke-width="0.8" fill="none"/>
<circle cx="639.5" cy="115.3" r="1.5" stroke="#e8893a" stroke-width="0.8" fill="none"/>
<circle cx="642" cy="114.6" r="1.5" stroke="#e8893a" stroke-width="0.8" fill="none"/>
<circle cx="644.5" cy="115.3" r="1.5" stroke="#e8893a" stroke-width="0.8" fill="none"/>
<circle cx="653.6" cy="129.3" r="1.5" stroke="#e8893a" stroke-width="0.8" fill="none"/>
<circle cx="656.6" cy="127.6" r="1.5" stroke="#e8893a" stroke-width="0.8" fill="none"/>
<circle cx="659.6" cy="128" r="1.5" stroke="#e8893a" stroke-width="0.8" fill="none"/>
<circle cx="667.8" cy="127" r="1.5" stroke="#e8893a" stroke-width="0.8" fill="none"/>
<circle cx="670.8" cy="126.8" r="1.5" stroke="#e8893a" stroke-width="0.8" fill="none"/>
<circle cx="673.8" cy="127" r="1.5" stroke="#e8893a" stroke-width="0.8" fill="none"/>
<path d="M583.5 93.5H588.5M586 93.5V111M583.5 111H588.5" stroke="#000" stroke-width="0.8" fill="none"/>
<rect x="584.5" y="88.3" width="3" height="3" fill="#fff" stroke="#777" stroke-width="0.8"/>
<path d="M597.5 98.5H602.5M600 98.5V114.5M597.5 114.5H602.5" stroke="#000" stroke-width="0.8" fill="none"/>
<path d="M611.5 93.5H616.5M614 93.5V113.5M611.5 113.5H616.5" stroke="#000" stroke-width="0.8" fill="none"/>
<path d="M625.5 105H630.5M628 105V120.5M625.5 120.5H630.5" stroke="#000" stroke-width="0.8" fill="none"/>
<text x="553.3" y="84.5" font-size="9" text-anchor="middle" transform="rotate(-90 553.3 84.5)">menRNA level</text>
<text x="564.9" y="84.4" font-size="9" text-anchor="middle" transform="rotate(-90 564.9 84.4)">relative to GAPDH</text>
<text x="588" y="145.8" font-size="7.1" text-anchor="end" transform="rotate(-30 588 145.8)">iPSC</text>
<text x="602" y="145.8" font-size="7.1" text-anchor="end" transform="rotate(-30 602 145.8)">4d iPSC-TM</text>
<text x="616" y="145.8" font-size="7.1" text-anchor="end" transform="rotate(-30 616 145.8)">12d iPSC-TM</text>
<text x="630" y="145.8" font-size="7.1" text-anchor="end" transform="rotate(-30 630 145.8)">17d iPSC-TM</text>
<text x="644" y="145.8" font-size="7.1" text-anchor="end" transform="rotate(-30 644 145.8)">24d iPSC-TM</text>
<text x="658.6" y="145.8" font-size="7.1" text-anchor="end" transform="rotate(-30 658.6 145.8)">pTM of donor 7</text>
<text x="672.8" y="145.8" font-size="7.1" text-anchor="end" transform="rotate(-30 672.8 145.8)">pTM of donor 9</text>
<line x1="63.3" y1="199.4" x2="63.3" y2="317.6" stroke="#222" stroke-width="0.85"/>
<line x1="60.3" y1="317.6" x2="63.3" y2="317.6" stroke="#222" stroke-width="0.85"/>
<text x="58.6" y="320.08" font-size="6.9" style="font-weight:normal" text-anchor="end" stroke="#222" stroke-width="0.2">0</text>
<line x1="60.3" y1="293.9" x2="63.3" y2="293.9" stroke="#222" stroke-width="0.85"/>
<text x="58.6" y="296.38" font-size="6.9" style="font-weight:normal" text-anchor="end" stroke="#222" stroke-width="0.2">500</text>
<line x1="60.3" y1="270.2" x2="63.3" y2="270.2" stroke="#222" stroke-width="0.85"/>
<text x="58.6" y="272.68" font-size="6.9" style="font-weight:normal" text-anchor="end" stroke="#222" stroke-width="0.2">1000</text>
<line x1="60.3" y1="246.5" x2="63.3" y2="246.5" stroke="#222" stroke-width="0.85"/>
<text x="58.6" y="248.98" font-size="6.9" style="font-weight:normal" text-anchor="end" stroke="#222" stroke-width="0.2">1500</text>
<line x1="60.3" y1="222.8" x2="63.3" y2="222.8" stroke="#222" stroke-width="0.85"/>
<text x="58.6" y="225.28" font-size="6.9" style="font-weight:normal" text-anchor="end" stroke="#222" stroke-width="0.2">2000</text>
<line x1="60.3" y1="199.1" x2="63.3" y2="199.1" stroke="#222" stroke-width="0.85"/>
<text x="58.6" y="201.58" font-size="6.9" style="font-weight:normal" text-anchor="end" stroke="#222" stroke-width="0.2">2500</text>
<line x1="63.3" y1="317.6" x2="121" y2="317.6" stroke="#222" stroke-width="0.85"/>
<line x1="80.6" y1="317.6" x2="80.6" y2="320.6" stroke="#222" stroke-width="0.85"/>
<line x1="104" y1="317.6" x2="104" y2="320.6" stroke="#222" stroke-width="0.85"/>
<rect x="75.3" y="288.2" width="11.4" height="29.4" fill="none" stroke="#222" stroke-width="0.85"/>
<rect x="98.15" y="224.4" width="11.9" height="93.2" fill="none" stroke="#222" stroke-width="0.85"/>
<path d="M80.6 279V202H104.2V205.7" stroke="#222" stroke-width="0.8" fill="none"/>
<text x="92" y="193.91" font-size="7.8" text-anchor="middle" stroke="#000" stroke-width="0.15">0.002</text>
<path d="M89.8 195.37 L90.42 196.22 L91.42 196.54 L90.8 197.4 L90.8 198.45 L89.8 198.12 L88.8 198.45 L88.8 197.4 L88.18 196.54 L89.18 196.22ZM94.6 195.37 L95.22 196.22 L96.22 196.54 L95.6 197.4 L95.6 198.45 L94.6 198.12 L93.6 198.45 L93.6 197.4 L92.98 196.54 L93.98 196.22Z" fill="#000"/>
<path d="M102.7 211.3H105.7M104.2 211.3V237.2M102.7 237.2H105.7" stroke="#999" stroke-width="0.9" fill="none"/>
<circle cx="104.2" cy="211.3" r="1.4" stroke="#333" stroke-width="0.9" fill="#fff"/>
<circle cx="104.2" cy="222.7" r="1.4" stroke="#333" stroke-width="0.9" fill="#fff"/>
<circle cx="104.2" cy="237.2" r="1.4" stroke="#333" stroke-width="0.9" fill="#fff"/>
<path d="M79.3 279.8H82.3M80.8 279.8V296M79.3 296H82.3" stroke="#999" stroke-width="0.9" fill="none"/>
<circle cx="80.6" cy="279.8" r="1.4" stroke="#333" stroke-width="0.9" fill="#fff"/>
<circle cx="80.6" cy="289.9" r="1.4" stroke="#333" stroke-width="0.9" fill="#fff"/>
<circle cx="80.6" cy="295.2" r="1.4" stroke="#333" stroke-width="0.9" fill="#fff"/>
<text x="27.2" y="257.6" font-size="9.3" text-anchor="middle" transform="rotate(-90 27.2 257.6)">Fold change</text>
<text x="38.6" y="257.6" font-size="9.2" text-anchor="middle" transform="rotate(-90 38.6 257.6)">(menRNA/control)</text>
<text x="82.4" y="330.2" font-size="9.3" style="font-weight:normal" text-anchor="end" transform="rotate(-30 82.4 330.2)">12h</text>
<text x="106" y="330.2" font-size="9.3" style="font-weight:normal" text-anchor="end" transform="rotate(-30 106 330.2)">48h</text>
<rect x="134.7" y="210" width="106" height="106" fill="#000"/>
<rect x="243.5" y="210" width="106" height="106" fill="#000"/>
<rect x="358.1" y="210" width="106" height="106" fill="#000"/>
<rect x="468.5" y="210" width="106" height="106" fill="#000"/>
<radialGradient id="nuc"><stop offset="0" stop-color="#3434ff"/><stop offset="0.7" stop-color="#2a22e8"/><stop offset="1" stop-color="#1a10a0"/></radialGradient>
<radialGradient id="nucd"><stop offset="0" stop-color="#2a20c0"/><stop offset="0.75" stop-color="#1e1690"/><stop offset="1" stop-color="#100860"/></radialGradient>
<g transform="translate(187.4 261.3) rotate(0)">
<ellipse rx="8.4" ry="6" fill="url(#nucd)" opacity="0.85" filter="url(#bl05)"/>
<circle cx="1.3" cy="-2.6" r="2" fill="#3a3aff" filter="url(#bl05)"/>
<circle cx="-2.4" cy="0.7" r="2" fill="#3a3aff" filter="url(#bl05)"/>
<circle cx="2.6" cy="3.2" r="2" fill="#3a3aff" filter="url(#bl05)"/>
<rect x="-0.8" y="0.72" width="0.9" height="0.9" fill="#d02a70"/><rect x="7.13" y="-0.41" width="0.9" height="0.9" fill="#d02a70"/><rect x="0.13" y="1.05" width="0.9" height="0.9" fill="#d02a70"/>
</g>
<g transform="translate(164.8 300) rotate(-30)">
<ellipse rx="6.5" ry="4.5" fill="url(#nuc)" opacity="1" filter="url(#bl05)"/>
<rect x="-4.1" y="0.11" width="0.9" height="0.9" fill="#d02a70"/><rect x="1.69" y="2.64" width="0.9" height="0.9" fill="#d02a70"/><rect x="-5.28" y="-1.77" width="0.9" height="0.9" fill="#d02a70"/>
</g>
<g transform="translate(278.5 240.7) rotate(0)">
<ellipse rx="7" ry="4" fill="url(#nuc)" opacity="1" filter="url(#bl05)"/>

</g>
<g transform="translate(285 295.2) rotate(25)">
<ellipse rx="6.6" ry="4.7" fill="url(#nucd)" opacity="1" filter="url(#bl05)"/>
<rect x="2.03" y="1.09" width="0.9" height="0.9" fill="#d02a70"/><rect x="0.37" y="-4.14" width="0.9" height="0.9" fill="#d02a70"/><rect x="-4.09" y="-2.43" width="0.9" height="0.9" fill="#d02a70"/><rect x="-6.2" y="-0.34" width="0.9" height="0.9" fill="#d02a70"/><rect x="-0.78" y="3.22" width="0.9" height="0.9" fill="#d02a70"/><rect x="0.25" y="1.32" width="0.9" height="0.9" fill="#d02a70"/><rect x="-0" y="1.53" width="0.9" height="0.9" fill="#d02a70"/><rect x="-0.56" y="-2.09" width="0.9" height="0.9" fill="#d02a70"/><rect x="4.49" y="1.95" width="0.9" height="0.9" fill="#d02a70"/><rect x="-2.44" y="-2.54" width="0.9" height="0.9" fill="#d02a70"/><rect x="3.52" y="-0.94" width="0.9" height="0.9" fill="#d02a70"/><rect x="4.57" y="-1.07" width="0.9" height="0.9" fill="#d02a70"/><rect x="5.42" y="-0.28" width="0.9" height="0.9" fill="#d02a70"/><rect x="-5.64" y="1.22" width="0.9" height="0.9" fill="#d02a70"/>
</g>
<g transform="translate(430 240) rotate(-25)">
<ellipse rx="7" ry="4.2" fill="url(#nucd)" opacity="1" filter="url(#bl05)"/>
<rect x="3.9" y="-1.93" width="0.9" height="0.9" fill="#d02a70"/><rect x="-5.78" y="-1.41" width="0.9" height="0.9" fill="#d02a70"/><rect x="-5.35" y="-2.13" width="0.9" height="0.9" fill="#d02a70"/>
</g>
<g transform="translate(413.5 278.5) rotate(-15)">
<ellipse rx="8" ry="5.5" fill="url(#nucd)" opacity="1" filter="url(#bl05)"/>
<rect x="4.75" y="-3.55" width="0.9" height="0.9" fill="#d02a70"/><rect x="0.95" y="-0.58" width="0.9" height="0.9" fill="#d02a70"/><rect x="-4.95" y="2.55" width="0.9" height="0.9" fill="#d02a70"/><rect x="-5.9" y="1.58" width="0.9" height="0.9" fill="#d02a70"/><rect x="-6.14" y="-0.87" width="0.9" height="0.9" fill="#d02a70"/>
</g>
<g transform="translate(493.5 238) rotate(0)">
<ellipse rx="8.6" ry="5.9" fill="url(#nucd)" opacity="1" filter="url(#bl05)"/>
<rect x="-4.94" y="-2.72" width="0.9" height="0.9" fill="#d02a70"/><rect x="-3.37" y="4.54" width="0.9" height="0.9" fill="#d02a70"/><rect x="-4.98" y="-1.25" width="0.9" height="0.9" fill="#d02a70"/><rect x="6.1" y="1.67" width="0.9" height="0.9" fill="#d02a70"/><rect x="-4.93" y="-2.85" width="0.9" height="0.9" fill="#d02a70"/><rect x="4.69" y="-2.02" width="0.9" height="0.9" fill="#d02a70"/>
</g>
<g transform="translate(526.8 237) rotate(0)">
<ellipse rx="3.5" ry="3.8" fill="url(#nuc)" opacity="1" filter="url(#bl05)"/>

</g>
<g transform="translate(520.6 252.8) rotate(0)">
<ellipse rx="5.5" ry="5.1" fill="url(#nuc)" opacity="1" filter="url(#bl05)"/>
<rect x="-2.24" y="-4.35" width="0.9" height="0.9" fill="#d02a70"/><rect x="-4.51" y="0.84" width="0.9" height="0.9" fill="#d02a70"/><rect x="-2.83" y="1.03" width="0.9" height="0.9" fill="#d02a70"/>
</g>
<g transform="translate(542.3 284.5) rotate(30)">
<ellipse rx="7" ry="5.5" fill="url(#nuc)" opacity="1" filter="url(#bl05)"/>
<rect x="-1.8" y="-0.51" width="0.9" height="0.9" fill="#d02a70"/><rect x="6.43" y="-0.18" width="0.9" height="0.9" fill="#d02a70"/><rect x="1.04" y="4.03" width="0.9" height="0.9" fill="#d02a70"/><rect x="-4.44" y="-3.8" width="0.9" height="0.9" fill="#d02a70"/><rect x="-3.51" y="-3.41" width="0.9" height="0.9" fill="#d02a70"/><rect x="5.35" y="1.14" width="0.9" height="0.9" fill="#d02a70"/>
</g>
<g transform="translate(485 294.3) rotate(0)">
<ellipse rx="5.6" ry="8.2" fill="url(#nuc)" opacity="1" filter="url(#bl05)"/>
<rect x="-0.88" y="-6.5" width="0.9" height="0.9" fill="#d02a70"/><rect x="-2.93" y="3.36" width="0.9" height="0.9" fill="#d02a70"/><rect x="-2.72" y="5.31" width="0.9" height="0.9" fill="#d02a70"/><rect x="1.08" y="-3.39" width="0.9" height="0.9" fill="#d02a70"/>
</g>
<text x="136.4" y="224.6" font-size="14" fill="#f0888e">NONO</text>
<text x="136.4" y="236.4" font-size="14" fill="#fff">12h control</text>
<text x="245.2" y="224.6" font-size="14" fill="#f0888e">NONO</text>
<text x="245.2" y="236.4" font-size="14" fill="#fff">12h menRNA</text>
<text x="359.8" y="224.6" font-size="14" fill="#f0888e">NONO</text>
<text x="359.8" y="236.4" font-size="14" fill="#fff">48h control</text>
<text x="470.2" y="224.6" font-size="14" fill="#f0888e">NONO</text>
<text x="470.2" y="236.4" font-size="14" fill="#fff">48h menRNA</text>
<line x1="610.5" y1="214.6" x2="610.5" y2="315.4" stroke="#222" stroke-width="0.85"/>
<line x1="608" y1="306.4" x2="610.5" y2="306.4" stroke="#222" stroke-width="0.85"/>
<text x="607.2" y="308.63" font-size="6.2" text-anchor="end">0</text>
<line x1="608" y1="283.4" x2="610.5" y2="283.4" stroke="#222" stroke-width="0.85"/>
<text x="607.2" y="285.63" font-size="6.2" text-anchor="end">50</text>
<line x1="608" y1="260.4" x2="610.5" y2="260.4" stroke="#222" stroke-width="0.85"/>
<text x="607.2" y="262.63" font-size="6.2" text-anchor="end">100</text>
<line x1="608" y1="237.4" x2="610.5" y2="237.4" stroke="#222" stroke-width="0.85"/>
<text x="607.2" y="239.63" font-size="6.2" text-anchor="end">150</text>
<line x1="608" y1="214.4" x2="610.5" y2="214.4" stroke="#222" stroke-width="0.85"/>
<text x="607.2" y="216.63" font-size="6.2" text-anchor="end">200</text>
<line x1="610.5" y1="315.4" x2="681.6" y2="315.4" stroke="#000" stroke-width="1"/>
<line x1="621.5" y1="315.4" x2="621.5" y2="318.4" stroke="#000" stroke-width="1"/>
<line x1="637.3" y1="315.4" x2="637.3" y2="318.4" stroke="#000" stroke-width="1"/>
<line x1="653.9" y1="315.4" x2="653.9" y2="318.4" stroke="#000" stroke-width="1"/>
<line x1="670.4" y1="315.4" x2="670.4" y2="318.4" stroke="#000" stroke-width="1"/>
<line x1="610.5" y1="306.4" x2="681.6" y2="306.4" stroke="#888" stroke-width="0.6" stroke-dasharray="1.5 1.5"/>
<line x1="613.9" y1="379.4" x2="613.9" y2="497.2" stroke="#222" stroke-width="0.85"/>
<line x1="612.1" y1="497.2" x2="613.9" y2="497.2" stroke="#222" stroke-width="0.85"/>
<text x="611.2" y="500.08" font-size="8" text-anchor="end">0</text>
<line x1="612.1" y1="473.6" x2="613.9" y2="473.6" stroke="#222" stroke-width="0.85"/>
<text x="611.2" y="476.48" font-size="8" text-anchor="end">50</text>
<line x1="612.1" y1="450" x2="613.9" y2="450" stroke="#222" stroke-width="0.85"/>
<text x="611.2" y="452.88" font-size="8" text-anchor="end">100</text>
<line x1="612.1" y1="426.4" x2="613.9" y2="426.4" stroke="#222" stroke-width="0.85"/>
<text x="611.2" y="429.28" font-size="8" text-anchor="end">150</text>
<line x1="612.1" y1="402.8" x2="613.9" y2="402.8" stroke="#222" stroke-width="0.85"/>
<text x="611.2" y="405.68" font-size="8" text-anchor="end">200</text>
<line x1="612.1" y1="379.2" x2="613.9" y2="379.2" stroke="#222" stroke-width="0.85"/>
<text x="611.2" y="382.08" font-size="8" text-anchor="end">250</text>
<line x1="613.9" y1="497.2" x2="680.2" y2="497.2" stroke="#222" stroke-width="0.85"/>
<line x1="632.9" y1="497.2" x2="632.9" y2="500.2" stroke="#222" stroke-width="0.85"/>
<line x1="661.5" y1="497.2" x2="661.5" y2="500.2" stroke="#222" stroke-width="0.85"/>
<rect x="623.7" y="445.2" width="18.4" height="52" fill="none" stroke="#222" stroke-width="0.85"/>
<rect x="652.3" y="430.1" width="18.4" height="67.1" fill="none" stroke="#222" stroke-width="0.85"/>
<path d="M632.9 413.5V399.1H661.8V401.5" stroke="#222" stroke-width="0.8" fill="none"/>
<text x="646.5" y="388.61" font-size="7.8" text-anchor="middle" stroke="#000" stroke-width="0.15">0.00008</text>
<path d="M642.1 393.65 L642.65 394.4 L643.53 394.69 L642.98 395.44 L642.98 396.36 L642.1 396.08 L641.22 396.36 L641.22 395.44 L640.67 394.69 L641.55 394.4ZM645.5 393.65 L646.05 394.4 L646.93 394.69 L646.38 395.44 L646.38 396.36 L645.5 396.08 L644.62 396.36 L644.62 395.44 L644.07 394.69 L644.95 394.4ZM648.9 393.65 L649.45 394.4 L650.33 394.69 L649.78 395.44 L649.78 396.36 L648.9 396.08 L648.02 396.36 L648.02 395.44 L647.47 394.69 L648.35 394.4ZM652.3 393.65 L652.85 394.4 L653.73 394.69 L653.18 395.44 L653.18 396.36 L652.3 396.08 L651.42 396.36 L651.42 395.44 L650.87 394.69 L651.75 394.4Z" fill="#000"/>
<path d="M621.5 228.5V215.4H670.4V223" stroke="#222" stroke-width="0.8" fill="none"/>
<path d="M637.3 228.5V226.6H670.4V237.7" stroke="#222" stroke-width="0.8" fill="none"/>
<path d="M621.5 286V237.7H636.4V257" stroke="#222" stroke-width="0.8" fill="none"/>
<path d="M638.3 257V237.7H652.4V270" stroke="#222" stroke-width="0.8" fill="none"/>
<path d="M655.8 270V237.7H670.4V242" stroke="#222" stroke-width="0.8" fill="none"/>
<line x1="653.3" y1="237.7" x2="653.3" y2="273.5" stroke="#aaa" stroke-width="2.2"/>
<text x="646.5" y="209.76" font-size="6" style="font-weight:normal" text-anchor="middle" stroke="#000" stroke-width="0.22">0.0000000005</text>
<path d="M641.15 210.83 L641.62 211.48 L642.39 211.73 L641.92 212.38 L641.91 213.18 L641.15 212.94 L640.39 213.18 L640.38 212.38 L639.91 211.73 L640.68 211.48ZM644.25 210.83 L644.72 211.48 L645.49 211.73 L645.02 212.38 L645.01 213.18 L644.25 212.94 L643.49 213.18 L643.48 212.38 L643.01 211.73 L643.78 211.48ZM647.35 210.83 L647.82 211.48 L648.59 211.73 L648.12 212.38 L648.11 213.18 L647.35 212.94 L646.59 213.18 L646.58 212.38 L646.11 211.73 L646.88 211.48ZM650.45 210.83 L650.92 211.48 L651.69 211.73 L651.22 212.38 L651.21 213.18 L650.45 212.94 L649.69 213.18 L649.68 212.38 L649.21 211.73 L649.98 211.48Z" fill="#000"/>
<text x="654" y="221.16" font-size="6" style="font-weight:normal" text-anchor="middle" stroke="#000" stroke-width="0.22">0.000001</text>
<path d="M648.55 221.83 L649.02 222.48 L649.79 222.73 L649.32 223.38 L649.31 224.18 L648.55 223.94 L647.79 224.18 L647.78 223.38 L647.31 222.73 L648.08 222.48ZM651.65 221.83 L652.12 222.48 L652.89 222.73 L652.42 223.38 L652.41 224.18 L651.65 223.94 L650.89 224.18 L650.88 223.38 L650.41 222.73 L651.18 222.48ZM654.75 221.83 L655.22 222.48 L655.99 222.73 L655.52 223.38 L655.51 224.18 L654.75 223.94 L653.99 224.18 L653.98 223.38 L653.51 222.73 L654.28 222.48ZM657.85 221.83 L658.32 222.48 L659.09 222.73 L658.62 223.38 L658.61 224.18 L657.85 223.94 L657.09 224.18 L657.08 223.38 L656.61 222.73 L657.38 222.48Z" fill="#000"/>
<text x="624.9" y="232.56" font-size="6" style="font-weight:normal" text-anchor="middle" stroke="#000" stroke-width="0.22">0.000005</text>
<text x="667" y="232.56" font-size="6" style="font-weight:normal" text-anchor="middle" stroke="#000" stroke-width="0.22">0.0000000005</text>
<path d="M624.25 233.13 L624.72 233.78 L625.49 234.03 L625.02 234.68 L625.01 235.48 L624.25 235.24 L623.49 235.48 L623.48 234.68 L623.01 234.03 L623.78 233.78ZM627.35 233.13 L627.82 233.78 L628.59 234.03 L628.12 234.68 L628.11 235.48 L627.35 235.24 L626.59 235.48 L626.58 234.68 L626.11 234.03 L626.88 233.78ZM630.45 233.13 L630.92 233.78 L631.69 234.03 L631.22 234.68 L631.21 235.48 L630.45 235.24 L629.69 235.48 L629.68 234.68 L629.21 234.03 L629.98 233.78ZM633.55 233.13 L634.02 233.78 L634.79 234.03 L634.32 234.68 L634.31 235.48 L633.55 235.24 L632.79 235.48 L632.78 234.68 L632.31 234.03 L633.08 233.78Z" fill="#000"/>
<path d="M641.15 233.13 L641.62 233.78 L642.39 234.03 L641.92 234.68 L641.91 235.48 L641.15 235.24 L640.39 235.48 L640.38 234.68 L639.91 234.03 L640.68 233.78ZM644.25 233.13 L644.72 233.78 L645.49 234.03 L645.02 234.68 L645.01 235.48 L644.25 235.24 L643.49 235.48 L643.48 234.68 L643.01 234.03 L643.78 233.78ZM647.35 233.13 L647.82 233.78 L648.59 234.03 L648.12 234.68 L648.11 235.48 L647.35 235.24 L646.59 235.48 L646.58 234.68 L646.11 234.03 L646.88 233.78ZM650.45 233.13 L650.92 233.78 L651.69 234.03 L651.22 234.68 L651.21 235.48 L650.45 235.24 L649.69 235.48 L649.68 234.68 L649.21 234.03 L649.98 233.78Z" fill="#000"/>
<path d="M658.25 233.13 L658.72 233.78 L659.49 234.03 L659.02 234.68 L659.01 235.48 L658.25 235.24 L657.49 235.48 L657.48 234.68 L657.01 234.03 L657.78 233.78ZM661.35 233.13 L661.82 233.78 L662.59 234.03 L662.12 234.68 L662.11 235.48 L661.35 235.24 L660.59 235.48 L660.58 234.68 L660.11 234.03 L660.88 233.78ZM664.45 233.13 L664.92 233.78 L665.69 234.03 L665.22 234.68 L665.21 235.48 L664.45 235.24 L663.69 235.48 L663.68 234.68 L663.21 234.03 L663.98 233.78ZM667.55 233.13 L668.02 233.78 L668.79 234.03 L668.32 234.68 L668.31 235.48 L667.55 235.24 L666.79 235.48 L666.78 234.68 L666.31 234.03 L667.08 233.78Z" fill="#000"/>
<text x="643.4" y="245.66" font-size="6" style="font-weight:normal" text-anchor="middle" stroke="#000" stroke-width="0.22">0.00000006</text>
<path d="M621.5 288.7 L622 292 L622.7 296 L623.9 299 L625.1 301.5 L626.3 303.5 L626.7 304.8 L625.7 306 L623.5 307.5 L621.5 308.7 L619.5 307.5 L617.3 306 L616.3 304.8 L616.7 303.5 L617.9 301.5 L619.1 299 L620.3 296 L621 292Z" stroke="#111" stroke-width="0.8" fill="none" stroke-linejoin="round"/>
<line x1="619" y1="301.3" x2="624" y2="301.3" stroke="#000" stroke-width="0.5" stroke-dasharray="1 0.8"/>
<line x1="617.5" y1="303.6" x2="625.5" y2="303.6" stroke="#000" stroke-width="0.5" stroke-dasharray="1 0.8"/>
<path d="M637.3 259.2 L637.9 270 L638.8 280 L640.3 290 L641.3 297 L642.1 302 L641.8 304.5 L640.3 306.5 L638.5 307.5 L637.8 309 L637.3 312.4 L636.8 309 L636.1 307.5 L634.3 306.5 L632.8 304.5 L632.5 302 L633.3 297 L634.3 290 L635.8 280 L636.7 270Z" stroke="#e8282a" stroke-width="0.9" fill="none" stroke-linejoin="round"/>
<line x1="634.8" y1="290.2" x2="639.8" y2="290.2" stroke="#000" stroke-width="0.5" stroke-dasharray="1 0.8"/>
<line x1="633.8" y1="297" x2="640.8" y2="297" stroke="#000" stroke-width="0.5" stroke-dasharray="1 0.8"/>
<line x1="633" y1="302.5" x2="641.6" y2="302.5" stroke="#000" stroke-width="0.5" stroke-dasharray="1 0.8"/>
<path d="M653.9 276.2 L654.4 285 L654.9 292 L655.7 296 L656.7 299 L658.1 302 L659 304.5 L657.9 306 L655.7 307.6 L653.9 308.7 L652.1 307.6 L649.9 306 L648.8 304.5 L649.7 302 L651.1 299 L652.1 296 L652.9 292 L653.4 285Z" stroke="#111" stroke-width="0.8" fill="none" stroke-linejoin="round"/>
<line x1="650.5" y1="301.5" x2="657.3" y2="301.5" stroke="#000" stroke-width="0.5" stroke-dasharray="1 0.8"/>
<line x1="649.5" y1="304" x2="658.3" y2="304" stroke="#000" stroke-width="0.5" stroke-dasharray="1 0.8"/>
<path d="M670.4 243 L671.1 252 L672.4 262 L673.6 272 L674.7 281.4 L673.8 287 L674.6 294 L675.4 300.6 L675.7 305 L673.9 307.5 L671.4 309.4 L670.9 311 L670.4 314.6 L669.9 311 L669.4 309.4 L666.9 307.5 L665.1 305 L665.4 300.6 L666.2 294 L667 287 L666.1 281.4 L667.2 272 L668.4 262 L669.7 252Z" stroke="#e8282a" stroke-width="0.9" fill="none" stroke-linejoin="round"/>
<line x1="666.6" y1="281.4" x2="674.2" y2="281.4" stroke="#000" stroke-width="0.5" stroke-dasharray="1 0.8"/>
<line x1="666.9" y1="292.5" x2="673.9" y2="292.5" stroke="#000" stroke-width="0.5" stroke-dasharray="1 0.8"/>
<line x1="665.9" y1="301.4" x2="674.9" y2="301.4" stroke="#000" stroke-width="0.5" stroke-dasharray="1 0.8"/>
<text x="594.6" y="263.3" font-size="9.2" text-anchor="middle" transform="rotate(-90 594.6 263.3)">Paraspeckle amount</text>
<text x="623.7" y="326" font-size="9.1" text-anchor="end" transform="rotate(-30 623.7 326)">12h-Control</text>
<text x="639.5" y="326" font-size="9.1" text-anchor="end" transform="rotate(-30 639.5 326)">12h-menRNA</text>
<text x="656.1" y="326" font-size="9.1" text-anchor="end" transform="rotate(-30 656.1 326)">48h-Control</text>
<text x="672.6" y="326" font-size="9.1" text-anchor="end" transform="rotate(-30 672.6 326)">48h-menRNA</text>
<rect x="13.2" y="370.8" width="168.6" height="166.6" fill="#000"/>
<rect x="118.02" y="493.65" width="1.08" height="1.17" fill="#22d822" opacity="0.72"/><rect x="143.59" y="412.84" width="0.63" height="0.69" fill="#1aa81a" opacity="0.53"/><rect x="55.18" y="461.18" width="0.94" height="0.61" fill="#3ae83a" opacity="0.5"/><rect x="44.41" y="514.26" width="0.83" height="1.06" fill="#22d822" opacity="0.37"/><rect x="117.11" y="392.78" width="0.6" height="1.12" fill="#3ae83a" opacity="0.69"/><rect x="174.34" y="399.2" width="0.7" height="0.79" fill="#3ae83a" opacity="0.57"/><rect x="127.2" y="405.58" width="1.16" height="1.01" fill="#5af05a" opacity="0.45"/><rect x="74.32" y="399.22" width="0.69" height="0.64" fill="#1aa81a" opacity="0.71"/><rect x="111.89" y="469.74" width="1.02" height="0.64" fill="#1aa81a" opacity="0.71"/><rect x="94.28" y="423.79" width="0.89" height="1.02" fill="#22d822" opacity="0.43"/><rect x="170.81" y="527.67" width="0.81" height="0.84" fill="#5af05a" opacity="0.48"/><rect x="110.61" y="373.49" width="0.63" height="0.71" fill="#3ae83a" opacity="0.36"/><rect x="55.1" y="506.4" width="0.88" height="0.91" fill="#1aa81a" opacity="0.69"/><rect x="32.04" y="494.74" width="1.08" height="1.12" fill="#22d822" opacity="0.52"/><rect x="177.38" y="406.19" width="0.91" height="0.82" fill="#3ae83a" opacity="0.47"/><rect x="168.34" y="461.4" width="0.79" height="0.79" fill="#3ae83a" opacity="0.7"/><rect x="118.68" y="490.27" width="0.79" height="0.89" fill="#22d822" opacity="0.34"/><rect x="114.31" y="523.47" width="0.62" height="1.04" fill="#1aa81a" opacity="0.71"/><rect x="90.1" y="441.17" width="0.63" height="1.15" fill="#22d822" opacity="0.7"/><rect x="69.81" y="405.96" width="1.19" height="0.94" fill="#3ae83a" opacity="0.62"/><rect x="145.6" y="389.49" width="0.86" height="0.69" fill="#5af05a" opacity="0.45"/><rect x="89.68" y="535.89" width="1.11" height="1.19" fill="#5af05a" opacity="0.78"/><rect x="129.04" y="424.1" width="0.76" height="0.88" fill="#3ae83a" opacity="0.36"/><rect x="151.28" y="459.21" width="0.71" height="1.16" fill="#1aa81a" opacity="0.39"/><rect x="96.14" y="456.49" width="0.93" height="0.9" fill="#22d822" opacity="0.69"/><rect x="143.41" y="485.91" width="1" height="1.06" fill="#1aa81a" opacity="0.58"/><rect x="125.61" y="508.98" width="0.76" height="1.19" fill="#1aa81a" opacity="0.78"/><rect x="70.79" y="401.3" width="1.11" height="0.88" fill="#1aa81a" opacity="0.46"/><rect x="59.71" y="419.37" width="0.9" height="1" fill="#1aa81a" opacity="0.47"/><rect x="121.56" y="493" width="1.1" height="0.81" fill="#3ae83a" opacity="0.73"/><rect x="128.95" y="532.08" width="1.17" height="0.91" fill="#3ae83a" opacity="0.4"/><rect x="74.46" y="512.03" width="0.77" height="0.65" fill="#5af05a" opacity="0.39"/><rect x="144.32" y="467.26" width="1" height="0.85" fill="#1aa81a" opacity="0.66"/><rect x="18.61" y="398.24" width="0.86" height="0.99" fill="#3ae83a" opacity="0.68"/><rect x="44.15" y="489.83" width="1.19" height="1.19" fill="#3ae83a" opacity="0.33"/><rect x="36.3" y="424.05" width="0.71" height="0.72" fill="#22d822" opacity="0.51"/><rect x="72.63" y="480.65" width="0.64" height="0.72" fill="#1aa81a" opacity="0.3"/><rect x="81.7" y="417.68" width="0.85" height="0.67" fill="#1aa81a" opacity="0.78"/><rect x="105.84" y="421.43" width="0.78" height="0.91" fill="#1aa81a" opacity="0.78"/><rect x="150.69" y="440.73" width="1.09" height="0.99" fill="#1aa81a" opacity="0.53"/><rect x="40.18" y="434.77" width="0.89" height="0.72" fill="#3ae83a" opacity="0.6"/><rect x="72.64" y="518.53" width="0.6" height="0.66" fill="#3ae83a" opacity="0.46"/><rect x="160.38" y="464.54" width="0.86" height="1.19" fill="#5af05a" opacity="0.45"/><rect x="176.4" y="434.28" width="1.18" height="1.15" fill="#1aa81a" opacity="0.67"/><rect x="64.23" y="413.18" width="0.61" height="1.17" fill="#1aa81a" opacity="0.55"/><rect x="61.83" y="450.22" width="0.67" height="0.97" fill="#5af05a" opacity="0.42"/><rect x="20.68" y="394.38" width="0.84" height="0.89" fill="#1aa81a" opacity="0.42"/><rect x="93.2" y="378.03" width="0.89" height="1.11" fill="#1aa81a" opacity="0.45"/><rect x="115.54" y="449.84" width="0.99" height="0.96" fill="#22d822" opacity="0.31"/><rect x="35.05" y="418.3" width="1.02" height="0.97" fill="#22d822" opacity="0.53"/><rect x="74.29" y="494.18" width="0.95" height="0.62" fill="#1aa81a" opacity="0.58"/><rect x="128.52" y="389.65" width="1.01" height="0.71" fill="#5af05a" opacity="0.69"/><rect x="85.43" y="466.41" width="1.02" height="0.98" fill="#5af05a" opacity="0.73"/><rect x="154.48" y="450.02" width="1.01" height="1.03" fill="#1aa81a" opacity="0.53"/><rect x="140.62" y="421.8" width="0.6" height="1.07" fill="#1aa81a" opacity="0.62"/><rect x="92.9" y="423" width="0.7" height="1.02" fill="#5af05a" opacity="0.79"/><rect x="103.84" y="441.79" width="0.92" height="0.63" fill="#3ae83a" opacity="0.43"/><rect x="28.23" y="382.32" width="1.17" height="0.8" fill="#5af05a" opacity="0.79"/><rect x="180.72" y="487" width="0.63" height="1.11" fill="#3ae83a" opacity="0.61"/><rect x="151.67" y="390.23" width="1.14" height="1.2" fill="#5af05a" opacity="0.37"/><rect x="115.97" y="439.89" width="0.7" height="0.97" fill="#22d822" opacity="0.58"/><rect x="124.26" y="494.27" width="0.77" height="0.94" fill="#22d822" opacity="0.67"/><rect x="160.7" y="394.03" width="0.86" height="0.79" fill="#5af05a" opacity="0.54"/><rect x="170.74" y="433.37" width="0.63" height="1.02" fill="#3ae83a" opacity="0.58"/><rect x="127.22" y="419.6" width="1.17" height="0.93" fill="#3ae83a" opacity="0.43"/><rect x="106.13" y="413.69" width="1.05" height="0.91" fill="#3ae83a" opacity="0.7"/><rect x="158.2" y="446.35" width="0.83" height="0.68" fill="#22d822" opacity="0.63"/><rect x="28.24" y="481.54" width="0.65" height="0.67" fill="#5af05a" opacity="0.42"/><rect x="160.45" y="450.8" width="0.79" height="1.08" fill="#22d822" opacity="0.57"/><rect x="78.23" y="511.11" width="1.17" height="0.86" fill="#3ae83a" opacity="0.67"/><rect x="27.99" y="521.47" width="0.89" height="0.73" fill="#5af05a" opacity="0.48"/><rect x="53.25" y="426.66" width="0.97" height="0.81" fill="#5af05a" opacity="0.49"/><rect x="134.69" y="430.76" width="0.78" height="0.98" fill="#1aa81a" opacity="0.56"/><rect x="112.97" y="466.01" width="1.04" height="0.84" fill="#22d822" opacity="0.32"/><rect x="45.12" y="404.08" width="0.89" height="1.16" fill="#1aa81a" opacity="0.3"/><rect x="92.52" y="517.92" width="0.97" height="0.86" fill="#5af05a" opacity="0.53"/><rect x="46" y="479.15" width="0.64" height="1.12" fill="#5af05a" opacity="0.38"/><rect x="56.43" y="417.5" width="0.7" height="0.77" fill="#3ae83a" opacity="0.32"/><rect x="163.69" y="428.46" width="1.05" height="0.79" fill="#22d822" opacity="0.64"/><rect x="126.53" y="449.36" width="1.17" height="0.67" fill="#1aa81a" opacity="0.45"/><rect x="126.64" y="491.6" width="0.7" height="0.72" fill="#22d822" opacity="0.59"/><rect x="123.63" y="473.28" width="1.15" height="1.02" fill="#1aa81a" opacity="0.39"/><rect x="74.36" y="382.97" width="1.2" height="0.88" fill="#3ae83a" opacity="0.39"/><rect x="48.86" y="379.2" width="0.97" height="1.04" fill="#1aa81a" opacity="0.3"/><rect x="24.16" y="499.8" width="0.85" height="0.63" fill="#1aa81a" opacity="0.77"/><rect x="133.66" y="410.87" width="1.08" height="0.66" fill="#5af05a" opacity="0.33"/><rect x="54.66" y="380.28" width="0.84" height="0.64" fill="#1aa81a" opacity="0.72"/><rect x="88.46" y="477.04" width="1.13" height="1.17" fill="#3ae83a" opacity="0.39"/><rect x="98.94" y="437.99" width="0.92" height="0.65" fill="#1aa81a" opacity="0.7"/><rect x="28.5" y="533.57" width="0.7" height="0.65" fill="#3ae83a" opacity="0.61"/><rect x="87.68" y="430.65" width="0.85" height="1.06" fill="#3ae83a" opacity="0.66"/><rect x="166.47" y="422.45" width="0.87" height="1.1" fill="#3ae83a" opacity="0.58"/><rect x="37.17" y="451.25" width="1.07" height="0.76" fill="#5af05a" opacity="0.46"/><rect x="35.68" y="385.45" width="0.75" height="0.65" fill="#5af05a" opacity="0.78"/><rect x="125.27" y="417.24" width="0.9" height="0.75" fill="#3ae83a" opacity="0.7"/><rect x="161.4" y="517.23" width="0.64" height="1.06" fill="#5af05a" opacity="0.68"/><rect x="106.87" y="518.96" width="0.99" height="1.06" fill="#22d822" opacity="0.52"/><rect x="150.41" y="479.5" width="1.17" height="1.04" fill="#5af05a" opacity="0.43"/><rect x="149.62" y="434.71" width="0.68" height="0.64" fill="#3ae83a" opacity="0.37"/><rect x="97.12" y="425.01" width="0.62" height="0.93" fill="#22d822" opacity="0.31"/><rect x="22.46" y="393.34" width="0.81" height="1.12" fill="#22d822" opacity="0.42"/><rect x="85.63" y="431.44" width="0.8" height="0.61" fill="#3ae83a" opacity="0.66"/><rect x="29.91" y="458.97" width="0.7" height="1.03" fill="#5af05a" opacity="0.68"/><rect x="86.57" y="442.43" width="0.8" height="0.87" fill="#3ae83a" opacity="0.53"/><rect x="86.5" y="444.39" width="1.06" height="1.16" fill="#5af05a" opacity="0.78"/><rect x="113.53" y="388.98" width="1.09" height="0.85" fill="#22d822" opacity="0.4"/><rect x="14.18" y="521.07" width="0.74" height="1.02" fill="#1aa81a" opacity="0.5"/><rect x="50.01" y="417.44" width="0.72" height="0.94" fill="#1aa81a" opacity="0.68"/><rect x="145.14" y="432.13" width="1.09" height="1.09" fill="#22d822" opacity="0.61"/><rect x="80.94" y="395.46" width="1.1" height="0.89" fill="#22d822" opacity="0.35"/><rect x="80.3" y="495.59" width="0.77" height="1.15" fill="#1aa81a" opacity="0.54"/><rect x="92.51" y="459.54" width="0.65" height="0.72" fill="#22d822" opacity="0.35"/><rect x="115.09" y="473.83" width="1.09" height="0.61" fill="#22d822" opacity="0.61"/><rect x="99.77" y="454.19" width="0.93" height="1.01" fill="#5af05a" opacity="0.79"/><rect x="150.19" y="523.52" width="1.02" height="1" fill="#3ae83a" opacity="0.7"/><rect x="74.59" y="469.34" width="1.01" height="0.91" fill="#1aa81a" opacity="0.44"/><rect x="18.57" y="498.89" width="0.97" height="1.12" fill="#5af05a" opacity="0.45"/><rect x="169.17" y="417.03" width="1.03" height="0.64" fill="#22d822" opacity="0.63"/><rect x="173.8" y="519.13" width="1.01" height="1.1" fill="#3ae83a" opacity="0.54"/><rect x="29.35" y="391.85" width="0.81" height="1.07" fill="#5af05a" opacity="0.5"/><rect x="14.49" y="435.99" width="0.71" height="0.99" fill="#3ae83a" opacity="0.76"/><rect x="116.46" y="435.41" width="0.67" height="1.01" fill="#1aa81a" opacity="0.42"/><rect x="30.71" y="420.19" width="1.08" height="1.08" fill="#22d822" opacity="0.75"/><rect x="41.96" y="475.78" width="1.06" height="0.73" fill="#22d822" opacity="0.58"/><rect x="118.62" y="476.95" width="0.93" height="0.84" fill="#3ae83a" opacity="0.51"/><rect x="102.3" y="520.38" width="0.78" height="0.77" fill="#1aa81a" opacity="0.39"/><rect x="19.09" y="390.96" width="0.94" height="0.96" fill="#3ae83a" opacity="0.52"/><rect x="68.45" y="388.78" width="1.07" height="0.8" fill="#22d822" opacity="0.33"/><rect x="94.94" y="508.88" width="1.17" height="0.79" fill="#5af05a" opacity="0.62"/><rect x="168.76" y="409.57" width="1.02" height="1.1" fill="#5af05a" opacity="0.72"/><rect x="14.26" y="482.27" width="0.67" height="0.8" fill="#1aa81a" opacity="0.61"/><rect x="31.52" y="496.32" width="1.04" height="1.09" fill="#3ae83a" opacity="0.66"/><rect x="168.32" y="528.93" width="0.98" height="1.18" fill="#22d822" opacity="0.48"/><rect x="149.97" y="404.06" width="0.79" height="0.7" fill="#22d822" opacity="0.42"/><rect x="171.22" y="448.42" width="0.6" height="1.19" fill="#1aa81a" opacity="0.37"/><rect x="14.55" y="434.49" width="0.81" height="1.05" fill="#5af05a" opacity="0.68"/><rect x="134.45" y="420.53" width="0.67" height="0.89" fill="#1aa81a" opacity="0.68"/><rect x="46.64" y="428.36" width="0.68" height="1.14" fill="#22d822" opacity="0.59"/><rect x="63.43" y="427.26" width="1.11" height="0.91" fill="#22d822" opacity="0.41"/><rect x="178.66" y="416.45" width="1.03" height="0.69" fill="#22d822" opacity="0.58"/><rect x="86.22" y="401.51" width="1.11" height="1.11" fill="#3ae83a" opacity="0.35"/><rect x="73.41" y="504.97" width="0.6" height="1.06" fill="#1aa81a" opacity="0.71"/><rect x="17.56" y="464.22" width="1.17" height="1.12" fill="#22d822" opacity="0.33"/><rect x="50.5" y="531.79" width="0.87" height="0.88" fill="#22d822" opacity="0.78"/><rect x="113.92" y="509.63" width="0.88" height="0.61" fill="#3ae83a" opacity="0.5"/><rect x="144" y="443.29" width="0.96" height="1.14" fill="#22d822" opacity="0.41"/><rect x="84.41" y="490.62" width="1.09" height="1.09" fill="#5af05a" opacity="0.76"/><rect x="77.22" y="535.84" width="1.05" height="1.14" fill="#3ae83a" opacity="0.45"/><rect x="45.85" y="508.81" width="0.65" height="0.82" fill="#5af05a" opacity="0.51"/><rect x="59.24" y="449.05" width="0.77" height="1" fill="#22d822" opacity="0.68"/><rect x="140.59" y="384.61" width="1.01" height="0.62" fill="#5af05a" opacity="0.74"/><rect x="46.82" y="375.03" width="1.1" height="1.18" fill="#5af05a" opacity="0.37"/><rect x="53.5" y="522.91" width="1.16" height="0.62" fill="#3ae83a" opacity="0.71"/><rect x="28.29" y="393.54" width="0.99" height="0.8" fill="#3ae83a" opacity="0.38"/><rect x="100.56" y="531.9" width="1.02" height="0.65" fill="#22d822" opacity="0.35"/><rect x="80.7" y="421.79" width="1.14" height="0.93" fill="#5af05a" opacity="0.78"/><rect x="54.23" y="465.26" width="0.76" height="0.93" fill="#5af05a" opacity="0.37"/><rect x="94.35" y="487.74" width="0.6" height="1.06" fill="#5af05a" opacity="0.42"/><rect x="133.61" y="410.71" width="0.78" height="1.08" fill="#3ae83a" opacity="0.32"/><rect x="78.38" y="428.7" width="0.61" height="0.78" fill="#5af05a" opacity="0.35"/><rect x="34.61" y="520.61" width="0.94" height="0.77" fill="#5af05a" opacity="0.79"/><rect x="64.4" y="399.33" width="1.16" height="0.65" fill="#5af05a" opacity="0.33"/><rect x="49.41" y="473.56" width="0.66" height="0.91" fill="#1aa81a" opacity="0.71"/><rect x="37.05" y="429.56" width="0.9" height="0.94" fill="#3ae83a" opacity="0.58"/><rect x="21.05" y="493.7" width="0.67" height="1.13" fill="#1aa81a" opacity="0.78"/><rect x="57.97" y="417.22" width="1.07" height="1.04" fill="#1aa81a" opacity="0.43"/><rect x="18.14" y="413.38" width="0.7" height="1.07" fill="#1aa81a" opacity="0.6"/><rect x="160.16" y="522.09" width="1.1" height="0.96" fill="#22d822" opacity="0.75"/><rect x="73.3" y="392.25" width="0.87" height="1.02" fill="#5af05a" opacity="0.64"/><rect x="122.48" y="376.26" width="0.85" height="0.85" fill="#5af05a" opacity="0.61"/><rect x="50.99" y="527.64" width="0.67" height="0.64" fill="#22d822" opacity="0.32"/><rect x="133.54" y="421.83" width="0.91" height="0.92" fill="#22d822" opacity="0.78"/><rect x="127.52" y="416.83" width="0.84" height="0.78" fill="#5af05a" opacity="0.45"/><rect x="14.25" y="496.35" width="0.91" height="1.14" fill="#5af05a" opacity="0.49"/><rect x="123.55" y="526.72" width="0.79" height="0.97" fill="#5af05a" opacity="0.34"/><rect x="72.91" y="384.98" width="0.86" height="0.97" fill="#5af05a" opacity="0.39"/><rect x="37.18" y="452.56" width="1.01" height="0.87" fill="#1aa81a" opacity="0.76"/><rect x="38.22" y="415.93" width="0.9" height="0.92" fill="#3ae83a" opacity="0.58"/><rect x="124.62" y="440.82" width="1.07" height="1.1" fill="#1aa81a" opacity="0.61"/><rect x="46.75" y="441.77" width="1.11" height="0.91" fill="#5af05a" opacity="0.61"/><rect x="120.99" y="528.82" width="0.67" height="1.06" fill="#1aa81a" opacity="0.35"/><rect x="159.41" y="418.67" width="1.05" height="0.71" fill="#5af05a" opacity="0.39"/><rect x="69.89" y="497.6" width="0.66" height="1.11" fill="#22d822" opacity="0.46"/><rect x="62.88" y="427.29" width="1.2" height="0.85" fill="#22d822" opacity="0.45"/><rect x="44.08" y="526.72" width="1.07" height="1.14" fill="#5af05a" opacity="0.35"/><rect x="83.5" y="409.1" width="0.62" height="0.94" fill="#1aa81a" opacity="0.63"/><rect x="127.83" y="425.02" width="0.82" height="0.65" fill="#5af05a" opacity="0.35"/><rect x="142.37" y="390.83" width="0.92" height="0.65" fill="#5af05a" opacity="0.52"/><rect x="59.45" y="462.35" width="1.18" height="0.86" fill="#3ae83a" opacity="0.74"/><rect x="177.89" y="393.92" width="0.99" height="0.71" fill="#3ae83a" opacity="0.46"/><rect x="149.42" y="458.76" width="0.68" height="0.63" fill="#5af05a" opacity="0.45"/><rect x="106.34" y="502.86" width="0.98" height="0.75" fill="#3ae83a" opacity="0.67"/><rect x="56.79" y="449.17" width="1.06" height="0.96" fill="#3ae83a" opacity="0.6"/><rect x="90.34" y="527.83" width="1.06" height="0.87" fill="#3ae83a" opacity="0.37"/><rect x="42.01" y="386.72" width="0.87" height="0.97" fill="#3ae83a" opacity="0.7"/><rect x="94.46" y="420.86" width="1.13" height="0.98" fill="#22d822" opacity="0.57"/><rect x="106.76" y="405.89" width="0.61" height="0.95" fill="#5af05a" opacity="0.62"/><rect x="95.61" y="515.29" width="1.15" height="0.77" fill="#1aa81a" opacity="0.33"/><rect x="62.2" y="457.92" width="0.78" height="0.82" fill="#3ae83a" opacity="0.44"/><rect x="46.51" y="528.05" width="0.62" height="0.89" fill="#3ae83a" opacity="0.46"/><rect x="156.46" y="480.46" width="0.85" height="1.1" fill="#5af05a" opacity="0.47"/><rect x="136.22" y="454.85" width="1.03" height="0.97" fill="#22d822" opacity="0.38"/><rect x="96.59" y="372.2" width="1.07" height="1.06" fill="#1aa81a" opacity="0.32"/><rect x="103.38" y="450.49" width="0.67" height="0.72" fill="#3ae83a" opacity="0.73"/><rect x="53.78" y="507.98" width="0.99" height="0.83" fill="#3ae83a" opacity="0.62"/><rect x="167.66" y="405.62" width="0.74" height="0.64" fill="#1aa81a" opacity="0.52"/><rect x="65.17" y="492.59" width="0.82" height="0.96" fill="#5af05a" opacity="0.69"/><rect x="135.34" y="518.26" width="0.92" height="0.6" fill="#5af05a" opacity="0.33"/><rect x="16.42" y="497.64" width="0.66" height="0.87" fill="#5af05a" opacity="0.75"/><rect x="92.39" y="419.41" width="0.64" height="1.06" fill="#5af05a" opacity="0.72"/><rect x="116.55" y="489.43" width="1.11" height="0.97" fill="#22d822" opacity="0.63"/><rect x="88.14" y="454.39" width="1.18" height="1.02" fill="#3ae83a" opacity="0.35"/><rect x="75.68" y="386.63" width="0.73" height="0.6" fill="#5af05a" opacity="0.33"/><rect x="45.32" y="514.93" width="0.83" height="1.06" fill="#22d822" opacity="0.75"/><rect x="129.1" y="407.59" width="0.84" height="0.87" fill="#5af05a" opacity="0.78"/><rect x="59.74" y="458.07" width="0.72" height="1.01" fill="#1aa81a" opacity="0.68"/><rect x="159.41" y="522.41" width="1.08" height="0.85" fill="#5af05a" opacity="0.67"/><rect x="47.84" y="467.46" width="1.03" height="1.12" fill="#22d822" opacity="0.4"/><rect x="103.09" y="509.8" width="0.82" height="0.66" fill="#5af05a" opacity="0.48"/><rect x="38.03" y="419.24" width="0.6" height="0.69" fill="#5af05a" opacity="0.77"/><rect x="138.05" y="486.96" width="0.88" height="1.1" fill="#1aa81a" opacity="0.66"/><rect x="161.88" y="452" width="0.82" height="1.19" fill="#1aa81a" opacity="0.68"/><rect x="93.77" y="503.75" width="0.87" height="1.15" fill="#5af05a" opacity="0.39"/><rect x="85.23" y="444.21" width="1.09" height="0.74" fill="#1aa81a" opacity="0.35"/><rect x="99.85" y="499.34" width="0.89" height="0.65" fill="#1aa81a" opacity="0.35"/><rect x="135.95" y="438.8" width="0.79" height="1.11" fill="#22d822" opacity="0.45"/><rect x="127.18" y="392.25" width="0.91" height="0.65" fill="#22d822" opacity="0.32"/><rect x="99.69" y="449" width="0.87" height="0.69" fill="#1aa81a" opacity="0.61"/><rect x="109.59" y="531.07" width="0.91" height="1.13" fill="#22d822" opacity="0.59"/><rect x="26.16" y="433.75" width="0.85" height="0.7" fill="#5af05a" opacity="0.34"/><rect x="71.19" y="406.28" width="1.01" height="0.88" fill="#22d822" opacity="0.72"/><rect x="96.92" y="377.81" width="1.18" height="1.02" fill="#22d822" opacity="0.6"/><rect x="162.54" y="422.76" width="0.88" height="1.13" fill="#1aa81a" opacity="0.56"/><rect x="29.62" y="455.71" width="1.13" height="0.85" fill="#3ae83a" opacity="0.61"/><rect x="81.72" y="441.92" width="0.68" height="0.86" fill="#22d822" opacity="0.45"/><rect x="74.99" y="470.94" width="0.95" height="0.71" fill="#5af05a" opacity="0.37"/><rect x="64.99" y="465.11" width="0.95" height="1.02" fill="#22d822" opacity="0.33"/><rect x="27.6" y="474.76" width="0.77" height="0.99" fill="#22d822" opacity="0.52"/><rect x="63.53" y="485.93" width="0.92" height="1.2" fill="#5af05a" opacity="0.72"/><rect x="117.44" y="510.99" width="0.71" height="0.88" fill="#1aa81a" opacity="0.72"/><rect x="28.78" y="443.78" width="0.76" height="1.15" fill="#1aa81a" opacity="0.77"/><rect x="171.02" y="435.99" width="1.11" height="1.2" fill="#3ae83a" opacity="0.37"/><rect x="147.65" y="460.94" width="0.81" height="0.71" fill="#5af05a" opacity="0.3"/><rect x="128.15" y="423.73" width="0.72" height="0.69" fill="#5af05a" opacity="0.36"/><rect x="77.15" y="403.83" width="0.72" height="0.84" fill="#5af05a" opacity="0.74"/><rect x="125.53" y="376.31" width="0.67" height="0.93" fill="#22d822" opacity="0.47"/><rect x="116.17" y="398.62" width="1.16" height="0.63" fill="#5af05a" opacity="0.32"/><rect x="93.39" y="405.6" width="1.15" height="1.2" fill="#1aa81a" opacity="0.69"/><rect x="50.91" y="446.79" width="0.62" height="0.67" fill="#3ae83a" opacity="0.35"/><rect x="129.82" y="391.61" width="1.14" height="0.98" fill="#1aa81a" opacity="0.69"/><rect x="56.59" y="399.73" width="0.76" height="0.64" fill="#3ae83a" opacity="0.42"/><rect x="174.84" y="509.49" width="1.06" height="0.88" fill="#3ae83a" opacity="0.73"/><rect x="135.82" y="491.96" width="1.15" height="0.93" fill="#5af05a" opacity="0.63"/><rect x="30.2" y="451.45" width="1.01" height="0.6" fill="#3ae83a" opacity="0.36"/><rect x="27.46" y="412.56" width="0.82" height="1.17" fill="#5af05a" opacity="0.3"/><rect x="130.34" y="372.32" width="1.17" height="0.91" fill="#1aa81a" opacity="0.46"/><rect x="119.93" y="512.23" width="1.07" height="0.78" fill="#3ae83a" opacity="0.64"/><rect x="112.84" y="404.58" width="1.15" height="0.94" fill="#22d822" opacity="0.41"/><rect x="48.28" y="480.96" width="0.95" height="0.77" fill="#3ae83a" opacity="0.4"/><rect x="167.85" y="391.49" width="0.96" height="1.02" fill="#5af05a" opacity="0.41"/>
<g filter="url(#bl05)">
<path d="M75 428 C74 440 78 452 85 464 C90 473 96 482 103 492 L106 491 C101 481 96 469 93 455 C91 444 90 433 89 425 C85 421 77 422 75 428Z" stroke="none" stroke-width="0" fill="#e2301c"/>
<path d="M77.5 430 C77 440 80 451 86 461 C90 468 94 475 98 481 L99.5 480 C96 471 92.5 461 90.5 450 C89 441 88 433 87 427 C84 424.5 79 425 77.5 430Z" stroke="none" stroke-width="0" fill="#f07a1e"/>
</g>
<rect x="80.96" y="433.12" width="0.88" height="0.88" fill="#f8d028"/><rect x="82.29" y="443.01" width="1.16" height="1.16" fill="#ffb020"/><rect x="82.1" y="445.9" width="1.39" height="1.39" fill="#ffe030"/><rect x="79.76" y="438.2" width="1.12" height="1.12" fill="#ffb020"/><rect x="80.43" y="443.76" width="1.3" height="1.3" fill="#ffb020"/><rect x="78.28" y="435.92" width="1.09" height="1.09" fill="#f8d028"/><rect x="83.63" y="439.21" width="1.29" height="1.29" fill="#f0e850"/><rect x="78.69" y="437.93" width="0.84" height="0.84" fill="#f8d028"/><rect x="79.54" y="443.54" width="0.89" height="0.89" fill="#ffb020"/><rect x="79.84" y="429.25" width="0.87" height="0.87" fill="#f8d028"/><rect x="80.43" y="443.16" width="0.75" height="0.75" fill="#f0e850"/><rect x="81.37" y="429.99" width="1.17" height="1.17" fill="#f0e850"/><rect x="85.8" y="434.96" width="1.12" height="1.12" fill="#f8d028"/><rect x="81.55" y="440.25" width="0.93" height="0.93" fill="#f8d028"/><rect x="80.34" y="439.33" width="1.13" height="1.13" fill="#f8d028"/><rect x="85.24" y="441.16" width="1.2" height="1.2" fill="#f8d028"/><rect x="82.08" y="442.71" width="1.16" height="1.16" fill="#ffb020"/><rect x="83.74" y="431.54" width="1.04" height="1.04" fill="#f8d028"/><rect x="83.83" y="436.36" width="1.36" height="1.36" fill="#f0e850"/><rect x="82.66" y="431.77" width="0.87" height="0.87" fill="#f8d028"/><rect x="83.94" y="440.04" width="1.08" height="1.08" fill="#ffe030"/><rect x="81.38" y="439.31" width="1.19" height="1.19" fill="#ffe030"/><rect x="84.17" y="443.57" width="0.75" height="0.75" fill="#f0e850"/><rect x="80.98" y="430.67" width="0.78" height="0.78" fill="#ffe030"/><rect x="80.04" y="442.4" width="1.07" height="1.07" fill="#ffb020"/><rect x="81.44" y="436.87" width="1.16" height="1.16" fill="#ffb020"/><rect x="79.9" y="436.99" width="0.73" height="0.73" fill="#f8d028"/><rect x="81.93" y="432.07" width="1.38" height="1.38" fill="#f8d028"/><rect x="84.24" y="431.83" width="1.17" height="1.17" fill="#f0e850"/><rect x="84.99" y="436.54" width="0.93" height="0.93" fill="#ffb020"/><rect x="79" y="435.72" width="0.92" height="0.92" fill="#f8d028"/><rect x="79.19" y="432.74" width="0.86" height="0.86" fill="#ffb020"/><rect x="78.02" y="438.18" width="0.88" height="0.88" fill="#ffb020"/><rect x="77.48" y="440.35" width="1.31" height="1.31" fill="#ffe030"/><rect x="80.97" y="442.32" width="1.08" height="1.08" fill="#f8d028"/><rect x="79.89" y="445.93" width="0.73" height="0.73" fill="#f0e850"/><rect x="80.47" y="429.29" width="1.28" height="1.28" fill="#f0e850"/><rect x="83.59" y="443.22" width="0.7" height="0.7" fill="#ffb020"/><rect x="82.03" y="429.77" width="1.2" height="1.2" fill="#f8d028"/><rect x="80.3" y="446.27" width="1.31" height="1.31" fill="#ffb020"/><rect x="77.83" y="435.53" width="1.06" height="1.06" fill="#f0e850"/><rect x="81.32" y="441.77" width="1.39" height="1.39" fill="#ffe030"/><rect x="79.81" y="442.55" width="0.87" height="0.87" fill="#f0e850"/><rect x="78.07" y="438.66" width="1.15" height="1.15" fill="#f0e850"/><rect x="81.71" y="440.47" width="1.17" height="1.17" fill="#ffb020"/><rect x="78.88" y="441.21" width="0.72" height="0.72" fill="#f0e850"/><rect x="80.74" y="446.2" width="1.03" height="1.03" fill="#f8d028"/><rect x="79.38" y="431.54" width="1.04" height="1.04" fill="#ffb020"/><rect x="84.93" y="438.56" width="0.9" height="0.9" fill="#f0e850"/><rect x="85.34" y="440.29" width="0.74" height="0.74" fill="#f0e850"/><rect x="81.65" y="444.41" width="0.81" height="0.81" fill="#ffb020"/><rect x="81.69" y="430.63" width="1.01" height="1.01" fill="#f0e850"/><rect x="82.15" y="444.28" width="1.01" height="1.01" fill="#f8d028"/><rect x="84.72" y="436.65" width="1.32" height="1.32" fill="#ffb020"/><rect x="77.73" y="436.24" width="1.17" height="1.17" fill="#ffb020"/><rect x="83.5" y="428.47" width="0.9" height="0.9" fill="#ffb020"/><rect x="85.1" y="440.62" width="0.73" height="0.73" fill="#ffb020"/><rect x="80.37" y="442.71" width="1.29" height="1.29" fill="#f0e850"/><rect x="81.64" y="434.46" width="0.89" height="0.89" fill="#f0e850"/><rect x="84.46" y="431.4" width="0.83" height="0.83" fill="#ffe030"/><rect x="80.11" y="427.89" width="1.24" height="1.24" fill="#f0e850"/><rect x="83.73" y="439.3" width="1.03" height="1.03" fill="#ffe030"/><rect x="80.87" y="430.89" width="0.85" height="0.85" fill="#ffe030"/><rect x="82.06" y="434.56" width="0.92" height="0.92" fill="#f8d028"/><rect x="80.17" y="435.25" width="0.9" height="0.9" fill="#ffb020"/><rect x="81.43" y="430.41" width="1.32" height="1.32" fill="#ffe030"/><rect x="83.77" y="433.56" width="0.76" height="0.76" fill="#f0e850"/><rect x="80.26" y="432.96" width="0.91" height="0.91" fill="#ffb020"/><rect x="81.53" y="436.76" width="1.18" height="1.18" fill="#f0e850"/><rect x="78.84" y="434.87" width="1.39" height="1.39" fill="#ffb020"/><rect x="85.29" y="439.43" width="1.11" height="1.11" fill="#f8d028"/><rect x="78.03" y="442.1" width="1.06" height="1.06" fill="#ffb020"/><rect x="83.25" y="442.4" width="1.29" height="1.29" fill="#ffb020"/><rect x="85.4" y="440.74" width="1.32" height="1.32" fill="#ffe030"/><rect x="83.27" y="431.39" width="1.39" height="1.39" fill="#f8d028"/><rect x="79.9" y="440.97" width="0.84" height="0.84" fill="#f0e850"/><rect x="83.35" y="429.77" width="1.28" height="1.28" fill="#ffb020"/><rect x="81.1" y="441.36" width="0.92" height="0.92" fill="#ffe030"/><rect x="81.25" y="438.24" width="1.16" height="1.16" fill="#ffb020"/><rect x="84.01" y="442.95" width="0.76" height="0.76" fill="#ffe030"/><rect x="82.37" y="446.56" width="1.13" height="1.13" fill="#ffb020"/><rect x="85.78" y="436.93" width="1" height="1" fill="#f0e850"/><rect x="82.39" y="433.43" width="1.16" height="1.16" fill="#ffb020"/><rect x="81.73" y="441.97" width="1.08" height="1.08" fill="#ffe030"/><rect x="81.47" y="445.09" width="0.75" height="0.75" fill="#ffb020"/><rect x="78.23" y="443.31" width="1.22" height="1.22" fill="#ffe030"/><rect x="80.51" y="429.63" width="1.23" height="1.23" fill="#f8d028"/><rect x="85.1" y="435.81" width="0.75" height="0.75" fill="#ffe030"/><rect x="77.98" y="437.38" width="0.85" height="0.85" fill="#f8d028"/><rect x="82.22" y="444.85" width="1.05" height="1.05" fill="#f0e850"/><rect x="79.76" y="431.61" width="1.08" height="1.08" fill="#ffb020"/><rect x="85.1" y="439.08" width="1.05" height="1.05" fill="#f8d028"/><rect x="82.63" y="435.16" width="0.89" height="0.89" fill="#ffe030"/><rect x="80.5" y="427.75" width="0.82" height="0.82" fill="#ffb020"/><rect x="82.29" y="436.16" width="1.04" height="1.04" fill="#f0e850"/><rect x="84.28" y="433.53" width="0.95" height="0.95" fill="#f0e850"/><rect x="78.16" y="441.44" width="1.36" height="1.36" fill="#ffe030"/><rect x="78.8" y="443.15" width="1.07" height="1.07" fill="#f8d028"/><rect x="79.99" y="440.29" width="1.15" height="1.15" fill="#ffe030"/><rect x="80.08" y="434.79" width="0.79" height="0.79" fill="#ffe030"/><rect x="78.39" y="430.81" width="1.36" height="1.36" fill="#f0e850"/><rect x="80.95" y="443.72" width="0.97" height="0.97" fill="#ffb020"/><rect x="77.84" y="440.24" width="1.38" height="1.38" fill="#ffb020"/><rect x="79.44" y="441.61" width="1.33" height="1.33" fill="#f0e850"/><rect x="79.04" y="439.2" width="1.37" height="1.37" fill="#f8d028"/><rect x="77.21" y="435.83" width="0.84" height="0.84" fill="#ffe030"/><rect x="83.05" y="442.69" width="1.05" height="1.05" fill="#f0e850"/><rect x="77.75" y="438.19" width="1.17" height="1.17" fill="#ffb020"/><rect x="78.63" y="443.13" width="0.73" height="0.73" fill="#ffe030"/><rect x="82.72" y="438.27" width="1.28" height="1.28" fill="#ffe030"/><rect x="84.35" y="436.48" width="1.33" height="1.33" fill="#ffe030"/><rect x="81.83" y="431.73" width="1.02" height="1.02" fill="#ffe030"/><rect x="83.27" y="434.52" width="0.78" height="0.78" fill="#ffe030"/><rect x="83.35" y="436.4" width="0.89" height="0.89" fill="#ffb020"/><rect x="85.63" y="438.32" width="1.11" height="1.11" fill="#f8d028"/><rect x="78.66" y="430.94" width="1.21" height="1.21" fill="#f0e850"/><rect x="81.33" y="427.3" width="0.71" height="0.71" fill="#f0e850"/><rect x="80.48" y="444.47" width="0.82" height="0.82" fill="#ffe030"/><rect x="83.18" y="432.25" width="0.84" height="0.84" fill="#ffb020"/><rect x="78.72" y="435.63" width="0.82" height="0.82" fill="#f8d028"/>
<rect x="90.99" y="468.08" width="1.16" height="1.16" fill="#ffd830"/><rect x="87.29" y="455.9" width="0.64" height="0.64" fill="#f8b020"/><rect x="89.73" y="466.2" width="0.92" height="0.92" fill="#e8e040"/><rect x="87.67" y="466.07" width="1.06" height="1.06" fill="#e8e040"/><rect x="90.69" y="461.98" width="0.9" height="0.9" fill="#ffd830"/><rect x="83.27" y="457.06" width="0.76" height="0.76" fill="#ffd830"/><rect x="89.76" y="466.35" width="1.27" height="1.27" fill="#e8e040"/><rect x="89.78" y="465.74" width="0.69" height="0.69" fill="#f8b020"/><rect x="88.32" y="457.61" width="0.95" height="0.95" fill="#e8e040"/><rect x="86.32" y="464.04" width="1.18" height="1.18" fill="#e8e040"/><rect x="90.26" y="467.25" width="1.3" height="1.3" fill="#f8b020"/><rect x="83.42" y="456.98" width="1.18" height="1.18" fill="#e8e040"/><rect x="83.07" y="451.34" width="1.24" height="1.24" fill="#e8e040"/><rect x="90.67" y="465.67" width="1.11" height="1.11" fill="#e8e040"/><rect x="89.82" y="460.73" width="0.68" height="0.68" fill="#f8b020"/><rect x="89.49" y="466.89" width="0.91" height="0.91" fill="#e8e040"/><rect x="88.64" y="455.49" width="1.18" height="1.18" fill="#e8e040"/><rect x="84.69" y="457.28" width="0.92" height="0.92" fill="#f8b020"/><rect x="87.96" y="456.12" width="0.69" height="0.69" fill="#e8e040"/><rect x="86.19" y="459.49" width="0.71" height="0.71" fill="#f8b020"/><rect x="90.17" y="461.76" width="1.04" height="1.04" fill="#e8e040"/><rect x="89.95" y="459.91" width="0.87" height="0.87" fill="#e8e040"/><rect x="87.59" y="454.35" width="0.62" height="0.62" fill="#e8e040"/><rect x="84.72" y="453.39" width="0.91" height="0.91" fill="#ffd830"/><rect x="86.51" y="455.51" width="0.77" height="0.77" fill="#e8e040"/><rect x="83" y="450.03" width="0.71" height="0.71" fill="#ffd830"/><rect x="87.43" y="461.57" width="1.21" height="1.21" fill="#f8b020"/><rect x="87.32" y="453.66" width="1.04" height="1.04" fill="#ffd830"/><rect x="86.21" y="454.15" width="0.94" height="0.94" fill="#f8b020"/><rect x="86.72" y="459.69" width="1.21" height="1.21" fill="#ffd830"/><rect x="87.36" y="456.08" width="0.74" height="0.74" fill="#f8b020"/><rect x="87.38" y="456.61" width="1.3" height="1.3" fill="#e8e040"/><rect x="89.69" y="463.82" width="0.61" height="0.61" fill="#e8e040"/><rect x="88.21" y="462.94" width="0.71" height="0.71" fill="#ffd830"/><rect x="87.87" y="457.68" width="0.83" height="0.83" fill="#ffd830"/><rect x="86.08" y="463.71" width="1.29" height="1.29" fill="#e8e040"/><rect x="86.94" y="455.93" width="0.92" height="0.92" fill="#e8e040"/><rect x="91.43" y="466.6" width="0.7" height="0.7" fill="#ffd830"/><rect x="82.88" y="455.49" width="1.21" height="1.21" fill="#ffd830"/><rect x="87.49" y="464.48" width="1.15" height="1.15" fill="#e8e040"/><rect x="89.23" y="464.92" width="0.65" height="0.65" fill="#f8b020"/><rect x="84.02" y="454.71" width="0.61" height="0.61" fill="#ffd830"/><rect x="88.88" y="467.29" width="1.03" height="1.03" fill="#e8e040"/><rect x="85.55" y="462.29" width="0.87" height="0.87" fill="#f8b020"/><rect x="85.1" y="460.96" width="1.02" height="1.02" fill="#f8b020"/><rect x="87.83" y="465.07" width="0.87" height="0.87" fill="#ffd830"/><rect x="84.84" y="456.04" width="1.2" height="1.2" fill="#ffd830"/><rect x="88.26" y="462.24" width="1.29" height="1.29" fill="#f8b020"/><rect x="87.26" y="457.42" width="1.19" height="1.19" fill="#ffd830"/><rect x="90.68" y="467.57" width="1.09" height="1.09" fill="#f8b020"/><rect x="89.81" y="468.19" width="1" height="1" fill="#ffd830"/><rect x="87.02" y="456.31" width="1.15" height="1.15" fill="#f8b020"/><rect x="90.24" y="465.77" width="1.22" height="1.22" fill="#ffd830"/><rect x="83.25" y="452.44" width="1.21" height="1.21" fill="#f8b020"/><rect x="84.59" y="454.37" width="1.22" height="1.22" fill="#ffd830"/><rect x="84.12" y="455.97" width="0.95" height="0.95" fill="#ffd830"/><rect x="88.32" y="461.83" width="1.07" height="1.07" fill="#ffd830"/><rect x="88.23" y="458.67" width="0.9" height="0.9" fill="#e8e040"/><rect x="90.84" y="461.12" width="0.79" height="0.79" fill="#e8e040"/><rect x="88.87" y="466.22" width="0.9" height="0.9" fill="#e8e040"/><rect x="90.23" y="467.48" width="1.19" height="1.19" fill="#e8e040"/><rect x="89.7" y="467.8" width="0.63" height="0.63" fill="#f8b020"/><rect x="84.31" y="451.06" width="0.63" height="0.63" fill="#e8e040"/><rect x="87.91" y="457.62" width="1.05" height="1.05" fill="#e8e040"/><rect x="86.75" y="456.9" width="1.24" height="1.24" fill="#f8b020"/><rect x="85.28" y="451.01" width="0.74" height="0.74" fill="#e8e040"/><rect x="85.89" y="460.93" width="0.66" height="0.66" fill="#f8b020"/><rect x="86.84" y="464.4" width="1.17" height="1.17" fill="#f8b020"/><rect x="86.57" y="452.29" width="0.8" height="0.8" fill="#ffd830"/><rect x="83.32" y="453.98" width="0.91" height="0.91" fill="#ffd830"/>
<rect x="95.3" y="478.22" width="0.96" height="0.96" fill="#ffd030"/><rect x="94.96" y="476" width="1.17" height="1.17" fill="#f8a020"/><rect x="95.64" y="479.41" width="1.11" height="1.11" fill="#f06020"/><rect x="92.85" y="472.7" width="0.8" height="0.8" fill="#f06020"/><rect x="91.33" y="470.57" width="0.98" height="0.98" fill="#ffd030"/><rect x="95.35" y="475.62" width="0.87" height="0.87" fill="#ffd030"/><rect x="92.39" y="473.88" width="0.78" height="0.78" fill="#ffd030"/><rect x="98.53" y="478.35" width="1.04" height="1.04" fill="#ffd030"/><rect x="91.63" y="473.04" width="1.14" height="1.14" fill="#f8a020"/><rect x="95.89" y="479.66" width="0.72" height="0.72" fill="#f06020"/><rect x="95.33" y="474.14" width="0.61" height="0.61" fill="#f8a020"/><rect x="97.02" y="477.98" width="0.84" height="0.84" fill="#f06020"/><rect x="97.78" y="478.87" width="1.07" height="1.07" fill="#ffd030"/><rect x="98.84" y="481.27" width="0.88" height="0.88" fill="#f8a020"/><rect x="91.26" y="471.31" width="0.64" height="0.64" fill="#ffd030"/><rect x="96.1" y="476.29" width="1.01" height="1.01" fill="#f8a020"/><rect x="94.86" y="474.85" width="0.84" height="0.84" fill="#f06020"/><rect x="96.42" y="480.45" width="0.99" height="0.99" fill="#f06020"/><rect x="94.12" y="473.33" width="0.86" height="0.86" fill="#f8a020"/><rect x="96.11" y="479.03" width="0.67" height="0.67" fill="#ffd030"/><rect x="98.12" y="480.43" width="1.05" height="1.05" fill="#f8a020"/><rect x="91.69" y="471.83" width="0.86" height="0.86" fill="#ffd030"/><rect x="95.46" y="477.76" width="0.99" height="0.99" fill="#f8a020"/><rect x="96.03" y="478.88" width="1.11" height="1.11" fill="#f8a020"/><rect x="95.21" y="473.36" width="0.97" height="0.97" fill="#f06020"/>
<g filter="url(#bl2)" opacity="0.35" fill="#20b020">
<ellipse transform="translate(47 463) rotate(0)" rx="6" ry="11"/>
<ellipse transform="translate(57 447) rotate(42)" rx="15" ry="4"/>
<ellipse transform="translate(93.5 433) rotate(0)" rx="3" ry="9"/>
<ellipse transform="translate(106 476) rotate(0)" rx="6" ry="6"/>
<ellipse transform="translate(151 470) rotate(0)" rx="3" ry="11"/>
</g>
<rect x="43.18" y="459.44" width="1.49" height="1.49" fill="#1aa81a"/><rect x="43.56" y="462.71" width="0.96" height="0.96" fill="#3ae83a"/><rect x="47.12" y="459.61" width="1.16" height="1.16" fill="#5af05a"/><rect x="47.09" y="469.6" width="1.21" height="1.21" fill="#3ae83a"/><rect x="49.63" y="469.29" width="1.55" height="1.55" fill="#5af05a"/><rect x="43.93" y="466.5" width="1.04" height="1.04" fill="#5af05a"/><rect x="45.68" y="463.22" width="1.36" height="1.36" fill="#5af05a"/><rect x="49.9" y="467.42" width="1.23" height="1.23" fill="#5af05a"/><rect x="47.56" y="460.32" width="1.51" height="1.51" fill="#3ae83a"/><rect x="49.05" y="466.85" width="1.1" height="1.1" fill="#22d822"/><rect x="43.26" y="463.29" width="1.41" height="1.41" fill="#5af05a"/><rect x="50.44" y="469.51" width="1.57" height="1.57" fill="#3ae83a"/><rect x="43.11" y="469.09" width="1.15" height="1.15" fill="#3ae83a"/><rect x="45.21" y="468.1" width="1.17" height="1.17" fill="#5af05a"/><rect x="44.09" y="459.24" width="1.28" height="1.28" fill="#22d822"/><rect x="47.52" y="455.48" width="1.34" height="1.34" fill="#5af05a"/><rect x="50.61" y="460.96" width="0.83" height="0.83" fill="#5af05a"/><rect x="48.36" y="467.89" width="1.1" height="1.1" fill="#1aa81a"/><rect x="50.38" y="469.68" width="1.49" height="1.49" fill="#22d822"/><rect x="50.69" y="463.51" width="1.22" height="1.22" fill="#3ae83a"/><rect x="47.27" y="466.91" width="1.31" height="1.31" fill="#22d822"/><rect x="50.42" y="464.34" width="1.27" height="1.27" fill="#5af05a"/><rect x="47.06" y="461.29" width="1.44" height="1.44" fill="#22d822"/><rect x="46.7" y="456.44" width="1.15" height="1.15" fill="#1aa81a"/><rect x="47.76" y="467.31" width="0.95" height="0.95" fill="#1aa81a"/><rect x="45.8" y="466.11" width="1.42" height="1.42" fill="#5af05a"/><rect x="51.68" y="463.26" width="1.41" height="1.41" fill="#3ae83a"/><rect x="51.67" y="466.72" width="1.48" height="1.48" fill="#5af05a"/><rect x="48.82" y="466.1" width="0.85" height="0.85" fill="#5af05a"/><rect x="46" y="458.4" width="1.39" height="1.39" fill="#1aa81a"/><rect x="46.3" y="464.32" width="1.05" height="1.05" fill="#5af05a"/><rect x="43.11" y="464.8" width="1.28" height="1.28" fill="#22d822"/><rect x="46.12" y="469.77" width="1.47" height="1.47" fill="#22d822"/><rect x="49.32" y="456.92" width="1.25" height="1.25" fill="#22d822"/><rect x="49.22" y="459.67" width="1.37" height="1.37" fill="#5af05a"/><rect x="51.03" y="460.18" width="1.23" height="1.23" fill="#1aa81a"/><rect x="43.38" y="463.48" width="1.55" height="1.55" fill="#3ae83a"/><rect x="49.04" y="465.19" width="1.02" height="1.02" fill="#5af05a"/><rect x="49.6" y="464.77" width="1.52" height="1.52" fill="#3ae83a"/><rect x="45.87" y="463.39" width="0.93" height="0.93" fill="#22d822"/><rect x="46.17" y="461.94" width="1.42" height="1.42" fill="#1aa81a"/><rect x="45.37" y="470.11" width="0.83" height="0.83" fill="#22d822"/><rect x="45.54" y="461.47" width="1.43" height="1.43" fill="#5af05a"/><rect x="45.65" y="459.08" width="0.88" height="0.88" fill="#5af05a"/><rect x="43.75" y="468.91" width="1.56" height="1.56" fill="#22d822"/><rect x="45.02" y="459.06" width="0.97" height="0.97" fill="#22d822"/><rect x="49.65" y="459.56" width="1.51" height="1.51" fill="#5af05a"/><rect x="47.55" y="465.6" width="1.28" height="1.28" fill="#22d822"/><rect x="47.34" y="457.55" width="1.37" height="1.37" fill="#22d822"/><rect x="48.42" y="458.09" width="1.54" height="1.54" fill="#1aa81a"/><rect x="50.75" y="458.73" width="1.35" height="1.35" fill="#3ae83a"/><rect x="46.91" y="462.75" width="0.92" height="0.92" fill="#5af05a"/><rect x="47.32" y="467.6" width="1.07" height="1.07" fill="#3ae83a"/><rect x="50.92" y="467.72" width="1.24" height="1.24" fill="#22d822"/><rect x="47.99" y="465.13" width="1.11" height="1.11" fill="#22d822"/><rect x="45.1" y="458.89" width="1.12" height="1.12" fill="#22d822"/><rect x="51.03" y="464.82" width="1.07" height="1.07" fill="#22d822"/><rect x="42.58" y="467.28" width="1.47" height="1.47" fill="#22d822"/><rect x="50.04" y="460.25" width="1.25" height="1.25" fill="#3ae83a"/><rect x="48.78" y="468.4" width="1.35" height="1.35" fill="#3ae83a"/><rect x="51.84" y="466.16" width="0.97" height="0.97" fill="#5af05a"/><rect x="48.26" y="466.2" width="1.5" height="1.5" fill="#1aa81a"/><rect x="47.37" y="462.59" width="1" height="1" fill="#3ae83a"/><rect x="44" y="457.24" width="0.93" height="0.93" fill="#1aa81a"/><rect x="50.48" y="465.2" width="1.44" height="1.44" fill="#1aa81a"/><rect x="43.43" y="458.33" width="1.36" height="1.36" fill="#1aa81a"/><rect x="48.23" y="465.22" width="0.84" height="0.84" fill="#22d822"/><rect x="46.19" y="471.18" width="0.83" height="0.83" fill="#5af05a"/><rect x="48.81" y="469.59" width="1.16" height="1.16" fill="#3ae83a"/><rect x="50.25" y="459.02" width="0.95" height="0.95" fill="#3ae83a"/><rect x="50.76" y="459.1" width="1.24" height="1.24" fill="#5af05a"/><rect x="45.11" y="470.18" width="1.03" height="1.03" fill="#5af05a"/><rect x="48.89" y="459.17" width="1.05" height="1.05" fill="#3ae83a"/><rect x="45.51" y="455.48" width="0.92" height="0.92" fill="#1aa81a"/><rect x="44.54" y="467.88" width="0.97" height="0.97" fill="#22d822"/><rect x="43.77" y="464.66" width="1.09" height="1.09" fill="#1aa81a"/><rect x="42.47" y="466.55" width="1.05" height="1.05" fill="#3ae83a"/><rect x="48.7" y="456.46" width="1.2" height="1.2" fill="#3ae83a"/><rect x="47.59" y="455.76" width="1.54" height="1.54" fill="#3ae83a"/><rect x="46.74" y="462.15" width="1.4" height="1.4" fill="#5af05a"/>
<rect x="54.19" y="444.62" width="1.47" height="1.47" fill="#1aa81a"/><rect x="49.76" y="442.01" width="1.41" height="1.41" fill="#5af05a"/><rect x="50.26" y="445.38" width="0.84" height="0.84" fill="#22d822"/><rect x="53.95" y="448.78" width="0.88" height="0.88" fill="#1aa81a"/><rect x="67.53" y="458.01" width="1.31" height="1.31" fill="#22d822"/><rect x="46.58" y="437.62" width="1.53" height="1.53" fill="#1aa81a"/><rect x="45.05" y="437.56" width="1.3" height="1.3" fill="#22d822"/><rect x="53.65" y="448.01" width="1.4" height="1.4" fill="#3ae83a"/><rect x="47.38" y="442.71" width="1.54" height="1.54" fill="#1aa81a"/><rect x="50.91" y="448.58" width="1.59" height="1.59" fill="#3ae83a"/><rect x="54.05" y="450.48" width="1.5" height="1.5" fill="#1aa81a"/><rect x="46.65" y="440.79" width="0.91" height="0.91" fill="#1aa81a"/><rect x="65.89" y="457.75" width="1.25" height="1.25" fill="#1aa81a"/><rect x="54.59" y="449.91" width="1.46" height="1.46" fill="#1aa81a"/><rect x="61.19" y="452.91" width="1.36" height="1.36" fill="#5af05a"/><rect x="58" y="448.94" width="1.43" height="1.43" fill="#5af05a"/><rect x="51.42" y="448.6" width="0.94" height="0.94" fill="#22d822"/><rect x="56.35" y="450.41" width="0.89" height="0.89" fill="#1aa81a"/><rect x="61.1" y="451.32" width="1.4" height="1.4" fill="#5af05a"/><rect x="62.51" y="454.43" width="1.23" height="1.23" fill="#1aa81a"/><rect x="61.08" y="452.94" width="1.46" height="1.46" fill="#5af05a"/><rect x="48.87" y="441.23" width="1.01" height="1.01" fill="#5af05a"/><rect x="49.42" y="443.4" width="1.33" height="1.33" fill="#22d822"/><rect x="56.69" y="446.46" width="1.41" height="1.41" fill="#22d822"/><rect x="59.44" y="447.95" width="1.51" height="1.51" fill="#22d822"/><rect x="52.92" y="450.17" width="1.15" height="1.15" fill="#3ae83a"/><rect x="55.36" y="449.12" width="1.29" height="1.29" fill="#5af05a"/><rect x="67.91" y="457.68" width="1.26" height="1.26" fill="#1aa81a"/><rect x="63.29" y="456.72" width="1.38" height="1.38" fill="#5af05a"/><rect x="47.63" y="438.79" width="0.81" height="0.81" fill="#5af05a"/><rect x="59.5" y="452.82" width="0.98" height="0.98" fill="#1aa81a"/><rect x="65.25" y="453.71" width="1.16" height="1.16" fill="#22d822"/><rect x="58.77" y="450.28" width="1.19" height="1.19" fill="#5af05a"/><rect x="55.92" y="445.39" width="1.54" height="1.54" fill="#22d822"/><rect x="45.77" y="439.66" width="1.28" height="1.28" fill="#3ae83a"/><rect x="59.28" y="455.29" width="1.2" height="1.2" fill="#1aa81a"/><rect x="54.92" y="450.5" width="0.94" height="0.94" fill="#1aa81a"/><rect x="49.38" y="446.51" width="1.13" height="1.13" fill="#22d822"/><rect x="47.98" y="440.8" width="1.14" height="1.14" fill="#1aa81a"/><rect x="59.94" y="451.28" width="0.91" height="0.91" fill="#22d822"/><rect x="57.56" y="446.19" width="1.52" height="1.52" fill="#3ae83a"/><rect x="62.19" y="455.86" width="1.1" height="1.1" fill="#3ae83a"/><rect x="45.83" y="437.99" width="0.92" height="0.92" fill="#1aa81a"/><rect x="57.99" y="451.32" width="1.56" height="1.56" fill="#3ae83a"/><rect x="60.83" y="453.73" width="1.24" height="1.24" fill="#22d822"/><rect x="56.09" y="445.32" width="0.81" height="0.81" fill="#3ae83a"/><rect x="66.01" y="457.07" width="1.42" height="1.42" fill="#22d822"/><rect x="48.43" y="444.24" width="1.43" height="1.43" fill="#5af05a"/><rect x="59.56" y="448.49" width="0.83" height="0.83" fill="#1aa81a"/><rect x="61.92" y="455.18" width="1.28" height="1.28" fill="#22d822"/><rect x="48.13" y="445.1" width="1.26" height="1.26" fill="#5af05a"/><rect x="58.78" y="451.61" width="1.28" height="1.28" fill="#5af05a"/><rect x="52.56" y="440.34" width="1.04" height="1.04" fill="#3ae83a"/><rect x="46.63" y="442.9" width="1.02" height="1.02" fill="#5af05a"/><rect x="60.63" y="452.24" width="0.88" height="0.88" fill="#1aa81a"/><rect x="60" y="449.42" width="0.87" height="0.87" fill="#1aa81a"/><rect x="63.7" y="456.48" width="0.83" height="0.83" fill="#5af05a"/><rect x="47.55" y="441.69" width="1.04" height="1.04" fill="#22d822"/><rect x="50.24" y="444.86" width="0.84" height="0.84" fill="#5af05a"/><rect x="51.29" y="446.53" width="1.14" height="1.14" fill="#3ae83a"/><rect x="60.7" y="456.15" width="0.88" height="0.88" fill="#5af05a"/><rect x="62.65" y="455.15" width="0.82" height="0.82" fill="#5af05a"/><rect x="47.31" y="440.5" width="1.36" height="1.36" fill="#3ae83a"/><rect x="54.99" y="451.31" width="0.8" height="0.8" fill="#5af05a"/><rect x="50.2" y="444.72" width="1.51" height="1.51" fill="#1aa81a"/><rect x="48.61" y="439.44" width="1.12" height="1.12" fill="#1aa81a"/><rect x="51.93" y="440.09" width="0.83" height="0.83" fill="#5af05a"/><rect x="56.54" y="452.22" width="1.03" height="1.03" fill="#1aa81a"/><rect x="48.94" y="438.43" width="1.01" height="1.01" fill="#5af05a"/><rect x="53.56" y="447.07" width="1.23" height="1.23" fill="#22d822"/><rect x="63.56" y="457.37" width="1.5" height="1.5" fill="#1aa81a"/><rect x="49.26" y="442.11" width="1.12" height="1.12" fill="#1aa81a"/><rect x="57.2" y="452.47" width="1.3" height="1.3" fill="#3ae83a"/><rect x="51.21" y="439.67" width="1.5" height="1.5" fill="#3ae83a"/><rect x="51.13" y="447.88" width="1.36" height="1.36" fill="#22d822"/><rect x="57.25" y="445.51" width="1.55" height="1.55" fill="#5af05a"/><rect x="56.66" y="449.41" width="1.21" height="1.21" fill="#1aa81a"/><rect x="58.49" y="447.26" width="1.29" height="1.29" fill="#3ae83a"/><rect x="57.02" y="454.04" width="1" height="1" fill="#22d822"/><rect x="59.98" y="448.01" width="0.81" height="0.81" fill="#22d822"/><rect x="57.76" y="447.57" width="1.42" height="1.42" fill="#5af05a"/><rect x="58.55" y="451.19" width="0.85" height="0.85" fill="#22d822"/><rect x="58.75" y="446.68" width="1.59" height="1.59" fill="#3ae83a"/><rect x="64.06" y="451.19" width="0.96" height="0.96" fill="#22d822"/><rect x="59.35" y="452.55" width="0.93" height="0.93" fill="#1aa81a"/><rect x="59.65" y="455.36" width="1.54" height="1.54" fill="#5af05a"/><rect x="47.13" y="439.29" width="1.43" height="1.43" fill="#3ae83a"/><rect x="58.74" y="453.09" width="1.13" height="1.13" fill="#22d822"/><rect x="46.68" y="443.68" width="1.33" height="1.33" fill="#22d822"/><rect x="50.29" y="440.25" width="1.31" height="1.31" fill="#3ae83a"/>
<rect x="65.49" y="452.47" width="1.6" height="1.6" fill="#22d822"/><rect x="66.94" y="456.74" width="1.03" height="1.03" fill="#22d822"/><rect x="68.41" y="455.12" width="0.82" height="0.82" fill="#22d822"/><rect x="65.53" y="454.14" width="0.93" height="0.93" fill="#1aa81a"/><rect x="66.7" y="458.95" width="1.13" height="1.13" fill="#3ae83a"/><rect x="68.53" y="456.45" width="1.56" height="1.56" fill="#3ae83a"/><rect x="65.39" y="451.68" width="0.92" height="0.92" fill="#22d822"/><rect x="69.33" y="458.09" width="1.2" height="1.2" fill="#22d822"/><rect x="68.31" y="451.27" width="1.09" height="1.09" fill="#5af05a"/><rect x="65.56" y="459.88" width="1.02" height="1.02" fill="#5af05a"/><rect x="65.4" y="456.49" width="1.01" height="1.01" fill="#1aa81a"/><rect x="65.41" y="459.38" width="0.95" height="0.95" fill="#22d822"/><rect x="64.33" y="456.77" width="1.07" height="1.07" fill="#1aa81a"/><rect x="69.01" y="460.16" width="1.54" height="1.54" fill="#22d822"/><rect x="68" y="456.42" width="1.53" height="1.53" fill="#5af05a"/><rect x="67.68" y="456.52" width="1.23" height="1.23" fill="#3ae83a"/><rect x="68.35" y="456.65" width="1.06" height="1.06" fill="#3ae83a"/><rect x="67.82" y="458.64" width="0.99" height="0.99" fill="#22d822"/><rect x="69.41" y="455.68" width="0.9" height="0.9" fill="#3ae83a"/><rect x="67.94" y="460.9" width="1.44" height="1.44" fill="#22d822"/><rect x="65.27" y="459.35" width="1.02" height="1.02" fill="#5af05a"/><rect x="67.43" y="452.15" width="1.1" height="1.1" fill="#3ae83a"/><rect x="65.74" y="461.18" width="1.03" height="1.03" fill="#5af05a"/><rect x="67.15" y="450.13" width="1.58" height="1.58" fill="#22d822"/><rect x="67.97" y="451.51" width="0.88" height="0.88" fill="#1aa81a"/>
<rect x="93.13" y="438.46" width="1.24" height="1.24" fill="#5af05a"/><rect x="95.41" y="431.04" width="1.18" height="1.18" fill="#22d822"/><rect x="93.12" y="435.15" width="0.82" height="0.82" fill="#22d822"/><rect x="93.87" y="438.54" width="1.3" height="1.3" fill="#3ae83a"/><rect x="95.19" y="435.74" width="1.17" height="1.17" fill="#22d822"/><rect x="93.17" y="426.8" width="1.53" height="1.53" fill="#3ae83a"/><rect x="94.21" y="426.82" width="0.89" height="0.89" fill="#3ae83a"/><rect x="93.67" y="437.74" width="1.59" height="1.59" fill="#5af05a"/><rect x="93.99" y="431.9" width="1.23" height="1.23" fill="#3ae83a"/><rect x="93.56" y="437.52" width="0.9" height="0.9" fill="#1aa81a"/><rect x="94.66" y="436.92" width="1.03" height="1.03" fill="#3ae83a"/><rect x="94.59" y="432.87" width="1.42" height="1.42" fill="#3ae83a"/><rect x="92.78" y="435.37" width="1.49" height="1.49" fill="#22d822"/><rect x="93.52" y="426.93" width="1.6" height="1.6" fill="#22d822"/><rect x="93.15" y="435.18" width="1.31" height="1.31" fill="#1aa81a"/><rect x="93.04" y="434.26" width="0.95" height="0.95" fill="#3ae83a"/><rect x="94.13" y="436.58" width="1.31" height="1.31" fill="#3ae83a"/><rect x="94.38" y="430.82" width="1.57" height="1.57" fill="#3ae83a"/><rect x="91.75" y="434.52" width="1.11" height="1.11" fill="#1aa81a"/><rect x="93.8" y="432.54" width="0.95" height="0.95" fill="#5af05a"/><rect x="91.68" y="433.7" width="1.11" height="1.11" fill="#22d822"/><rect x="94.77" y="428.96" width="1.11" height="1.11" fill="#22d822"/><rect x="92.94" y="432.34" width="1.02" height="1.02" fill="#22d822"/><rect x="92.63" y="428.65" width="1.36" height="1.36" fill="#3ae83a"/><rect x="93.55" y="433.9" width="0.82" height="0.82" fill="#3ae83a"/><rect x="94.98" y="429.53" width="1.29" height="1.29" fill="#22d822"/><rect x="95.34" y="433.4" width="1.43" height="1.43" fill="#3ae83a"/><rect x="95.24" y="429.07" width="1.51" height="1.51" fill="#22d822"/><rect x="92.56" y="435.25" width="1.3" height="1.3" fill="#1aa81a"/><rect x="91.38" y="432.06" width="1.58" height="1.58" fill="#22d822"/><rect x="92.05" y="436.91" width="1.44" height="1.44" fill="#3ae83a"/><rect x="92.24" y="431.6" width="1.49" height="1.49" fill="#22d822"/><rect x="92.59" y="431.81" width="1.14" height="1.14" fill="#3ae83a"/><rect x="94.68" y="433.53" width="0.99" height="0.99" fill="#22d822"/><rect x="93.73" y="438.54" width="1.24" height="1.24" fill="#5af05a"/><rect x="95.44" y="431" width="1.05" height="1.05" fill="#5af05a"/><rect x="95.08" y="436.18" width="0.97" height="0.97" fill="#3ae83a"/><rect x="92.68" y="428.99" width="1.32" height="1.32" fill="#22d822"/><rect x="91.79" y="436.97" width="0.87" height="0.87" fill="#22d822"/><rect x="94.09" y="431.9" width="1.02" height="1.02" fill="#5af05a"/><rect x="95.64" y="431.72" width="1.14" height="1.14" fill="#22d822"/><rect x="93.26" y="424.73" width="1.51" height="1.51" fill="#3ae83a"/><rect x="93.93" y="431.95" width="1.41" height="1.41" fill="#5af05a"/><rect x="92.87" y="425.47" width="1.42" height="1.42" fill="#1aa81a"/><rect x="95.31" y="435.93" width="1" height="1" fill="#22d822"/>
<rect x="104.27" y="471.84" width="1.26" height="1.26" fill="#22d822"/><rect x="105.2" y="476.28" width="0.86" height="0.86" fill="#22d822"/><rect x="102.13" y="472.87" width="1.16" height="1.16" fill="#3ae83a"/><rect x="110.13" y="476.97" width="0.85" height="0.85" fill="#22d822"/><rect x="102.26" y="479.22" width="1.5" height="1.5" fill="#1aa81a"/><rect x="106.66" y="474.67" width="1.22" height="1.22" fill="#5af05a"/><rect x="109.68" y="476.42" width="1.53" height="1.53" fill="#22d822"/><rect x="103.11" y="475.19" width="1.17" height="1.17" fill="#5af05a"/><rect x="107.59" y="477.11" width="1.08" height="1.08" fill="#1aa81a"/><rect x="102.5" y="475.47" width="1.58" height="1.58" fill="#22d822"/><rect x="104.16" y="472.84" width="1.31" height="1.31" fill="#1aa81a"/><rect x="109.2" y="476.33" width="1.57" height="1.57" fill="#3ae83a"/><rect x="105.55" y="480.36" width="1.21" height="1.21" fill="#5af05a"/><rect x="107.62" y="478.67" width="1.32" height="1.32" fill="#22d822"/><rect x="103.52" y="479.83" width="1.29" height="1.29" fill="#1aa81a"/><rect x="107.31" y="474.45" width="0.99" height="0.99" fill="#3ae83a"/><rect x="106.66" y="474.79" width="1.02" height="1.02" fill="#22d822"/><rect x="101.92" y="473.72" width="1.41" height="1.41" fill="#3ae83a"/><rect x="102.04" y="478.73" width="0.87" height="0.87" fill="#3ae83a"/><rect x="105.4" y="475.68" width="0.86" height="0.86" fill="#3ae83a"/><rect x="104.14" y="472.63" width="1.43" height="1.43" fill="#1aa81a"/><rect x="104.99" y="476.12" width="0.98" height="0.98" fill="#3ae83a"/><rect x="104.25" y="475.59" width="0.93" height="0.93" fill="#5af05a"/><rect x="105.41" y="474.31" width="1.53" height="1.53" fill="#22d822"/><rect x="104.17" y="476.98" width="1.36" height="1.36" fill="#1aa81a"/><rect x="104.13" y="473.04" width="1.31" height="1.31" fill="#22d822"/><rect x="107.69" y="477.3" width="1.18" height="1.18" fill="#5af05a"/><rect x="102.05" y="477.89" width="1.01" height="1.01" fill="#1aa81a"/><rect x="108.22" y="472.67" width="1.06" height="1.06" fill="#3ae83a"/><rect x="107.89" y="479.92" width="0.82" height="0.82" fill="#5af05a"/><rect x="109.67" y="475.11" width="1.47" height="1.47" fill="#1aa81a"/><rect x="105.27" y="471.73" width="1.44" height="1.44" fill="#22d822"/><rect x="101.21" y="477.3" width="1.51" height="1.51" fill="#5af05a"/><rect x="103.4" y="479.38" width="1.38" height="1.38" fill="#3ae83a"/><rect x="102.54" y="473.27" width="1.59" height="1.59" fill="#1aa81a"/>
<rect x="108.86" y="411.03" width="1.01" height="1.01" fill="#1aa81a"/><rect x="108.98" y="411.47" width="0.91" height="0.91" fill="#22d822"/>
<rect x="108.72" y="412.37" width="1.18" height="1.18" fill="#3ae83a"/><rect x="110.02" y="412.18" width="1.16" height="1.16" fill="#5af05a"/>
<rect x="111.43" y="413.44" width="1.13" height="1.13" fill="#22d822"/><rect x="111.57" y="412.55" width="0.76" height="0.76" fill="#5af05a"/>
<rect x="112.69" y="412.53" width="0.91" height="0.91" fill="#3ae83a"/><rect x="112.47" y="413.41" width="1.21" height="1.21" fill="#1aa81a"/>
<rect x="112.89" y="413.24" width="1.03" height="1.03" fill="#5af05a"/><rect x="114.39" y="414.24" width="1.18" height="1.18" fill="#22d822"/>
<rect x="115.34" y="414.81" width="0.71" height="0.71" fill="#5af05a"/><rect x="114.39" y="414.86" width="1.17" height="1.17" fill="#1aa81a"/>
<rect x="116.34" y="416.51" width="0.83" height="0.83" fill="#1aa81a"/><rect x="115.74" y="414.5" width="1.26" height="1.26" fill="#5af05a"/>
<rect x="118.36" y="416.08" width="0.95" height="0.95" fill="#22d822"/><rect x="118" y="416.2" width="0.77" height="0.77" fill="#1aa81a"/>
<rect x="117.65" y="417.02" width="1.18" height="1.18" fill="#5af05a"/><rect x="119.67" y="417.03" width="1.15" height="1.15" fill="#22d822"/>
<rect x="120.1" y="417.31" width="1.03" height="1.03" fill="#1aa81a"/><rect x="119.49" y="419.03" width="0.86" height="0.86" fill="#22d822"/>
<rect x="120.94" y="419.21" width="0.7" height="0.7" fill="#3ae83a"/><rect x="121.41" y="419.5" width="0.99" height="0.99" fill="#5af05a"/>
<rect x="122.56" y="418.64" width="1.03" height="1.03" fill="#3ae83a"/><rect x="121.46" y="419.04" width="0.9" height="0.9" fill="#3ae83a"/>
<rect x="124.13" y="420.83" width="0.76" height="0.76" fill="#1aa81a"/><rect x="123.98" y="420.3" width="1.04" height="1.04" fill="#3ae83a"/>
<rect x="125.56" y="421.61" width="1.24" height="1.24" fill="#1aa81a"/><rect x="124.57" y="421.52" width="1.14" height="1.14" fill="#22d822"/>
<rect x="126.9" y="422.98" width="1.11" height="1.11" fill="#22d822"/><rect x="125.33" y="422.06" width="0.91" height="0.91" fill="#22d822"/>
<rect x="127.63" y="424.39" width="1.14" height="1.14" fill="#1aa81a"/><rect x="126.47" y="423.48" width="1.19" height="1.19" fill="#5af05a"/>
<rect x="127.47" y="424.33" width="1.26" height="1.26" fill="#5af05a"/><rect x="127.67" y="424.85" width="1.04" height="1.04" fill="#22d822"/>
<rect x="128.7" y="424.71" width="0.88" height="0.88" fill="#22d822"/><rect x="128.12" y="426.06" width="1.05" height="1.05" fill="#3ae83a"/>
<rect x="130.09" y="425.52" width="1.09" height="1.09" fill="#1aa81a"/><rect x="130.65" y="426.36" width="1.24" height="1.24" fill="#3ae83a"/>
<rect x="130.38" y="426.49" width="0.95" height="0.95" fill="#5af05a"/><rect x="131" y="427.68" width="1.24" height="1.24" fill="#3ae83a"/>
<rect x="132.4" y="429.14" width="0.87" height="0.87" fill="#5af05a"/><rect x="132.42" y="427.68" width="0.87" height="0.87" fill="#1aa81a"/>
<rect x="133.46" y="429.37" width="0.99" height="0.99" fill="#3ae83a"/><rect x="133.24" y="428.99" width="1.03" height="1.03" fill="#5af05a"/>
<rect x="135.1" y="430.8" width="0.98" height="0.98" fill="#22d822"/><rect x="134.27" y="430.34" width="0.72" height="0.72" fill="#1aa81a"/>
<rect x="134.37" y="431.89" width="0.8" height="0.8" fill="#3ae83a"/><rect x="134.36" y="431.64" width="1.23" height="1.23" fill="#22d822"/>
<rect x="135.14" y="432.7" width="1.18" height="1.18" fill="#3ae83a"/><rect x="135.68" y="433.59" width="0.85" height="0.85" fill="#5af05a"/>
<rect x="136.64" y="434.33" width="0.94" height="0.94" fill="#1aa81a"/><rect x="137.78" y="433.35" width="0.72" height="0.72" fill="#3ae83a"/>
<rect x="138.55" y="434.4" width="1.07" height="1.07" fill="#5af05a"/><rect x="138.2" y="435.66" width="1.23" height="1.23" fill="#5af05a"/>
<rect x="138.55" y="436.87" width="0.89" height="0.89" fill="#1aa81a"/><rect x="139.17" y="436.06" width="0.82" height="0.82" fill="#3ae83a"/>
<rect x="140.05" y="437.28" width="0.95" height="0.95" fill="#22d822"/><rect x="138.2" y="437.16" width="0.96" height="0.96" fill="#5af05a"/>
<rect x="139.81" y="438.18" width="1.21" height="1.21" fill="#1aa81a"/><rect x="139.51" y="438.52" width="0.73" height="0.73" fill="#22d822"/>
<rect x="139.96" y="439.32" width="0.83" height="0.83" fill="#1aa81a"/><rect x="141.5" y="439.33" width="1.03" height="1.03" fill="#5af05a"/>
<rect x="141.34" y="441.59" width="1.12" height="1.12" fill="#22d822"/><rect x="140.62" y="440.79" width="0.99" height="0.99" fill="#3ae83a"/>
<rect x="141.91" y="442.82" width="0.76" height="0.76" fill="#1aa81a"/><rect x="142.27" y="442.5" width="0.96" height="0.96" fill="#3ae83a"/>
<rect x="143.88" y="443.95" width="0.97" height="0.97" fill="#22d822"/><rect x="142.42" y="443.95" width="1.29" height="1.29" fill="#22d822"/>
<rect x="144.12" y="445.22" width="0.8" height="0.8" fill="#3ae83a"/><rect x="144.25" y="445.29" width="0.73" height="0.73" fill="#22d822"/>
<rect x="144.33" y="445.45" width="0.88" height="0.88" fill="#3ae83a"/><rect x="144.21" y="444.97" width="0.72" height="0.72" fill="#22d822"/>
<rect x="145.92" y="447.07" width="0.75" height="0.75" fill="#5af05a"/><rect x="146.05" y="447.15" width="1.01" height="1.01" fill="#22d822"/>
<rect x="144.95" y="448.46" width="0.97" height="0.97" fill="#5af05a"/><rect x="146.46" y="447.96" width="0.91" height="0.91" fill="#1aa81a"/>
<rect x="146.28" y="450.11" width="1.13" height="1.13" fill="#1aa81a"/><rect x="145.82" y="448.94" width="0.71" height="0.71" fill="#3ae83a"/>
<rect x="145.91" y="451.07" width="0.74" height="0.74" fill="#3ae83a"/><rect x="147.03" y="452.13" width="0.86" height="0.86" fill="#22d822"/>
<rect x="148.13" y="451.54" width="1.21" height="1.21" fill="#3ae83a"/><rect x="147.8" y="451.96" width="0.79" height="0.79" fill="#3ae83a"/>
<rect x="147.69" y="454.67" width="1.11" height="1.11" fill="#1aa81a"/><rect x="148.8" y="453.1" width="1.05" height="1.05" fill="#3ae83a"/>
<rect x="147.62" y="455.45" width="1" height="1" fill="#3ae83a"/><rect x="148.15" y="455.5" width="0.84" height="0.84" fill="#3ae83a"/>
<rect x="148.1" y="456.55" width="1.25" height="1.25" fill="#1aa81a"/><rect x="148.11" y="456" width="1.19" height="1.19" fill="#1aa81a"/>
<rect x="149.26" y="458.47" width="1.19" height="1.19" fill="#3ae83a"/><rect x="149.6" y="457.98" width="1.16" height="1.16" fill="#22d822"/>
<rect x="150.99" y="459.28" width="1.15" height="1.15" fill="#22d822"/><rect x="148.78" y="459.45" width="1.06" height="1.06" fill="#22d822"/>
<rect x="149.97" y="461.49" width="1.19" height="1.19" fill="#5af05a"/><rect x="151.08" y="459.8" width="0.84" height="0.84" fill="#3ae83a"/>
<rect x="150.66" y="462.36" width="0.92" height="0.92" fill="#3ae83a"/><rect x="149.97" y="462.73" width="0.93" height="0.93" fill="#22d822"/>
<rect x="151.05" y="462.93" width="0.9" height="0.9" fill="#3ae83a"/><rect x="151.04" y="463.55" width="1.28" height="1.28" fill="#5af05a"/>
<rect x="152.21" y="465.84" width="1.28" height="1.28" fill="#3ae83a"/><rect x="152.08" y="466.21" width="1.25" height="1.25" fill="#5af05a"/>
<rect x="152.52" y="466.62" width="0.98" height="0.98" fill="#5af05a"/><rect x="152.87" y="466.25" width="1.19" height="1.19" fill="#1aa81a"/>
<rect x="153.22" y="468.54" width="0.87" height="0.87" fill="#3ae83a"/><rect x="152.54" y="468.8" width="1.14" height="1.14" fill="#3ae83a"/>
<rect x="152.54" y="469.68" width="0.74" height="0.74" fill="#3ae83a"/><rect x="153.1" y="469.13" width="1.29" height="1.29" fill="#3ae83a"/>
<rect x="152.28" y="470.86" width="1.23" height="1.23" fill="#1aa81a"/><rect x="151.95" y="470.82" width="1.03" height="1.03" fill="#22d822"/>
<rect x="152.14" y="472.2" width="0.86" height="0.86" fill="#1aa81a"/><rect x="153.5" y="473.84" width="0.82" height="0.82" fill="#3ae83a"/>
<rect x="153" y="475.29" width="0.94" height="0.94" fill="#5af05a"/><rect x="152.24" y="474.82" width="0.76" height="0.76" fill="#5af05a"/>
<rect x="153.36" y="475.37" width="0.89" height="0.89" fill="#5af05a"/><rect x="152.62" y="475.59" width="1.06" height="1.06" fill="#5af05a"/>
<rect x="153.02" y="477.94" width="1.17" height="1.17" fill="#3ae83a"/><rect x="153.73" y="478.03" width="1.02" height="1.02" fill="#1aa81a"/>
<rect x="153.3" y="479.18" width="1.11" height="1.11" fill="#22d822"/><rect x="154.07" y="480.48" width="0.92" height="0.92" fill="#22d822"/>
<rect x="153.28" y="480.29" width="0.91" height="0.91" fill="#1aa81a"/><rect x="153.9" y="480.64" width="0.9" height="0.9" fill="#22d822"/>
<rect x="151.35" y="478.87" width="1.35" height="1.35" fill="#1aa81a"/><rect x="151.26" y="472.34" width="0.99" height="0.99" fill="#3ae83a"/><rect x="152.05" y="474.86" width="0.98" height="0.98" fill="#22d822"/><rect x="150.85" y="465.76" width="1.31" height="1.31" fill="#22d822"/><rect x="151.34" y="474.85" width="1.11" height="1.11" fill="#22d822"/><rect x="150.32" y="465.69" width="1.42" height="1.42" fill="#3ae83a"/><rect x="151.63" y="472.44" width="1.01" height="1.01" fill="#5af05a"/><rect x="151.15" y="478.34" width="1.28" height="1.28" fill="#5af05a"/><rect x="152.72" y="469.41" width="0.89" height="0.89" fill="#1aa81a"/><rect x="152.37" y="474.36" width="1.21" height="1.21" fill="#3ae83a"/><rect x="151.84" y="465.68" width="1.08" height="1.08" fill="#1aa81a"/><rect x="150.54" y="475.22" width="1.53" height="1.53" fill="#3ae83a"/><rect x="153.08" y="471.3" width="1" height="1" fill="#5af05a"/><rect x="149.9" y="467.55" width="1.12" height="1.12" fill="#22d822"/><rect x="153.27" y="470.81" width="1.41" height="1.41" fill="#1aa81a"/><rect x="152.29" y="465.45" width="1.28" height="1.28" fill="#1aa81a"/><rect x="150.61" y="465.76" width="1.06" height="1.06" fill="#5af05a"/><rect x="150.63" y="475.3" width="1.29" height="1.29" fill="#5af05a"/><rect x="150.98" y="476.94" width="1.52" height="1.52" fill="#3ae83a"/><rect x="150.31" y="473.76" width="0.96" height="0.96" fill="#3ae83a"/><rect x="152.22" y="476.58" width="1.27" height="1.27" fill="#5af05a"/><rect x="151.6" y="472.57" width="1.38" height="1.38" fill="#22d822"/><rect x="152.31" y="469.04" width="1.37" height="1.37" fill="#3ae83a"/><rect x="152.48" y="473.82" width="1.14" height="1.14" fill="#5af05a"/><rect x="152.11" y="469.68" width="1.46" height="1.46" fill="#1aa81a"/><rect x="150.13" y="471.56" width="1.52" height="1.52" fill="#3ae83a"/><rect x="152.06" y="473.65" width="1.04" height="1.04" fill="#22d822"/><rect x="151.42" y="469.6" width="1.09" height="1.09" fill="#1aa81a"/><rect x="151.52" y="468.08" width="0.98" height="0.98" fill="#3ae83a"/><rect x="152" y="465.75" width="1.39" height="1.39" fill="#1aa81a"/>
<rect x="168.73" y="378.58" width="1.58" height="1.58" fill="#1aa81a"/><rect x="170.5" y="383.28" width="1.09" height="1.09" fill="#22d822"/><rect x="178.93" y="383.26" width="1.2" height="1.2" fill="#5af05a"/><rect x="168.12" y="377.86" width="1.27" height="1.27" fill="#22d822"/><rect x="169.93" y="377.06" width="1.15" height="1.15" fill="#1aa81a"/><rect x="172.59" y="377.01" width="1.2" height="1.2" fill="#1aa81a"/><rect x="166.93" y="378.19" width="0.85" height="0.85" fill="#22d822"/><rect x="175.13" y="378.75" width="1.28" height="1.28" fill="#22d822"/><rect x="172.19" y="382.78" width="1.08" height="1.08" fill="#5af05a"/><rect x="173.42" y="385.29" width="1.19" height="1.19" fill="#1aa81a"/><rect x="174.08" y="382.45" width="1.58" height="1.58" fill="#1aa81a"/><rect x="166.4" y="377.07" width="1.2" height="1.2" fill="#1aa81a"/><rect x="168.3" y="377.29" width="1.41" height="1.41" fill="#1aa81a"/><rect x="166.9" y="375.57" width="1.44" height="1.44" fill="#22d822"/><rect x="174.06" y="382.36" width="0.98" height="0.98" fill="#1aa81a"/><rect x="169.3" y="378.68" width="1.54" height="1.54" fill="#3ae83a"/><rect x="165.3" y="379.11" width="1.5" height="1.5" fill="#1aa81a"/><rect x="168.85" y="382.96" width="0.91" height="0.91" fill="#5af05a"/><rect x="164.68" y="378.5" width="1.32" height="1.32" fill="#5af05a"/><rect x="169.85" y="384.11" width="1.48" height="1.48" fill="#1aa81a"/><rect x="170.53" y="380.5" width="0.97" height="0.97" fill="#22d822"/><rect x="168.52" y="375.61" width="1.59" height="1.59" fill="#1aa81a"/><rect x="168.92" y="383.05" width="1.11" height="1.11" fill="#5af05a"/><rect x="178.11" y="386.87" width="1.59" height="1.59" fill="#1aa81a"/><rect x="177.16" y="381.03" width="1.21" height="1.21" fill="#3ae83a"/><rect x="178.55" y="386.78" width="1.09" height="1.09" fill="#3ae83a"/><rect x="176.68" y="383.34" width="1" height="1" fill="#3ae83a"/><rect x="176.45" y="386.41" width="0.92" height="0.92" fill="#3ae83a"/><rect x="177.1" y="386.43" width="0.97" height="0.97" fill="#3ae83a"/><rect x="170.35" y="380.74" width="1.27" height="1.27" fill="#5af05a"/><rect x="170.95" y="378.12" width="1.48" height="1.48" fill="#5af05a"/><rect x="173" y="379.45" width="1.12" height="1.12" fill="#22d822"/><rect x="178.72" y="385.77" width="1.03" height="1.03" fill="#5af05a"/><rect x="175.7" y="379.76" width="1" height="1" fill="#3ae83a"/><rect x="178.76" y="383.05" width="1.09" height="1.09" fill="#5af05a"/><rect x="165.92" y="377.69" width="0.83" height="0.83" fill="#5af05a"/><rect x="168.16" y="377.71" width="0.94" height="0.94" fill="#5af05a"/><rect x="167.31" y="376.69" width="1.04" height="1.04" fill="#22d822"/><rect x="165.53" y="378.6" width="1.06" height="1.06" fill="#3ae83a"/><rect x="172.15" y="380.01" width="0.93" height="0.93" fill="#5af05a"/><rect x="175.76" y="378.99" width="1.15" height="1.15" fill="#5af05a"/><rect x="176.8" y="385.68" width="1.08" height="1.08" fill="#3ae83a"/><rect x="177.19" y="386.86" width="0.82" height="0.82" fill="#22d822"/><rect x="171.77" y="377.03" width="1.31" height="1.31" fill="#1aa81a"/><rect x="165.18" y="378.82" width="1.43" height="1.43" fill="#3ae83a"/>
<rect x="162.36" y="511.9" width="1.07" height="1.07" fill="#5af05a"/><rect x="141.85" y="526.07" width="1.58" height="1.58" fill="#1aa81a"/><rect x="145.16" y="533.04" width="1.27" height="1.27" fill="#22d822"/><rect x="162.98" y="515.9" width="1.28" height="1.28" fill="#5af05a"/><rect x="169.53" y="514.73" width="1.03" height="1.03" fill="#5af05a"/><rect x="123.5" y="523.28" width="1.55" height="1.55" fill="#5af05a"/><rect x="131" y="510.91" width="1.46" height="1.46" fill="#5af05a"/><rect x="142.31" y="521.45" width="1.35" height="1.35" fill="#5af05a"/><rect x="172.51" y="510.34" width="1.08" height="1.08" fill="#1aa81a"/><rect x="139.46" y="513.46" width="0.97" height="0.97" fill="#22d822"/><rect x="123.12" y="518.53" width="1.55" height="1.55" fill="#3ae83a"/><rect x="143.87" y="507.18" width="1.05" height="1.05" fill="#22d822"/><rect x="131.12" y="521.2" width="1.54" height="1.54" fill="#3ae83a"/><rect x="141.45" y="511.33" width="0.83" height="0.83" fill="#5af05a"/><rect x="138.81" y="527.14" width="1.56" height="1.56" fill="#22d822"/><rect x="127.31" y="518.71" width="1" height="1" fill="#5af05a"/><rect x="141.73" y="527.14" width="1.23" height="1.23" fill="#5af05a"/><rect x="173.62" y="511.5" width="1.49" height="1.49" fill="#5af05a"/><rect x="150.45" y="512.2" width="1.09" height="1.09" fill="#1aa81a"/><rect x="176.94" y="522.88" width="1.56" height="1.56" fill="#22d822"/><rect x="136.48" y="508.66" width="0.89" height="0.89" fill="#5af05a"/><rect x="138.49" y="531.79" width="0.93" height="0.93" fill="#5af05a"/><rect x="157.62" y="521.01" width="1.42" height="1.42" fill="#5af05a"/><rect x="158.21" y="507.85" width="1.22" height="1.22" fill="#3ae83a"/><rect x="160.85" y="509.1" width="0.81" height="0.81" fill="#22d822"/><rect x="142.48" y="528.61" width="1" height="1" fill="#22d822"/><rect x="125.78" y="523.68" width="1.05" height="1.05" fill="#3ae83a"/><rect x="165.58" y="530.24" width="1.2" height="1.2" fill="#3ae83a"/><rect x="149.02" y="508.48" width="1.28" height="1.28" fill="#22d822"/><rect x="168.37" y="510.82" width="1.54" height="1.54" fill="#22d822"/><rect x="127.19" y="520.78" width="1.59" height="1.59" fill="#3ae83a"/><rect x="158.38" y="523.45" width="1.37" height="1.37" fill="#5af05a"/><rect x="132.59" y="522.41" width="1.27" height="1.27" fill="#1aa81a"/><rect x="163.07" y="517.14" width="1.24" height="1.24" fill="#5af05a"/><rect x="175.49" y="513.29" width="1.11" height="1.11" fill="#1aa81a"/><rect x="178.46" y="520.24" width="1.17" height="1.17" fill="#3ae83a"/><rect x="133.7" y="518.32" width="1" height="1" fill="#22d822"/><rect x="150.48" y="528.9" width="1.41" height="1.41" fill="#1aa81a"/><rect x="147.65" y="532.09" width="1.14" height="1.14" fill="#5af05a"/><rect x="141.27" y="523.39" width="1.02" height="1.02" fill="#3ae83a"/>
<rect x="70.46" y="373.25" width="1.03" height="1.03" fill="#1aa81a"/><rect x="74.98" y="374.11" width="1.07" height="1.07" fill="#3ae83a"/><rect x="72.82" y="371.19" width="1.44" height="1.44" fill="#5af05a"/><rect x="75.15" y="370.83" width="0.92" height="0.92" fill="#3ae83a"/><rect x="76.89" y="370.68" width="1.39" height="1.39" fill="#3ae83a"/><rect x="76.23" y="374.92" width="1.19" height="1.19" fill="#22d822"/><rect x="76.85" y="374.77" width="1.12" height="1.12" fill="#22d822"/><rect x="80.06" y="372.53" width="0.84" height="0.84" fill="#22d822"/><rect x="74.56" y="374.81" width="1.1" height="1.1" fill="#22d822"/><rect x="76.12" y="372.41" width="1.54" height="1.54" fill="#22d822"/><rect x="77.31" y="375.08" width="1.29" height="1.29" fill="#22d822"/><rect x="74.78" y="374.85" width="0.95" height="0.95" fill="#3ae83a"/><rect x="78.25" y="371.5" width="0.97" height="0.97" fill="#22d822"/><rect x="76.32" y="372.91" width="1.23" height="1.23" fill="#1aa81a"/><rect x="74.72" y="372.58" width="1.42" height="1.42" fill="#1aa81a"/><rect x="73.29" y="374.36" width="1.19" height="1.19" fill="#1aa81a"/><rect x="73.17" y="371.56" width="1.07" height="1.07" fill="#1aa81a"/><rect x="78.65" y="372.86" width="1.49" height="1.49" fill="#5af05a"/><rect x="71.68" y="373.95" width="1.56" height="1.56" fill="#5af05a"/><rect x="72.36" y="372.31" width="1.51" height="1.51" fill="#22d822"/>
<rect x="74.15" y="401.14" width="0.88" height="0.88" fill="#30a0d0"/><rect x="80.35" y="379.27" width="1.46" height="1.46" fill="#22d822"/><rect x="75.95" y="387.78" width="0.82" height="0.82" fill="#22d822"/><rect x="74.66" y="410.34" width="1.45" height="1.45" fill="#5af05a"/><rect x="75.54" y="408.94" width="1.21" height="1.21" fill="#5af05a"/><rect x="75.79" y="401.79" width="1.43" height="1.43" fill="#30a0d0"/><rect x="73.35" y="409.31" width="0.99" height="0.99" fill="#22d822"/><rect x="74.7" y="397.95" width="1.27" height="1.27" fill="#1aa81a"/><rect x="74.17" y="395.07" width="1.26" height="1.26" fill="#30a0d0"/><rect x="73.99" y="397.48" width="1.37" height="1.37" fill="#3ae83a"/><rect x="75.97" y="393.77" width="1.59" height="1.59" fill="#5af05a"/><rect x="78.75" y="377.94" width="1.54" height="1.54" fill="#30a0d0"/><rect x="80.26" y="377.5" width="0.95" height="0.95" fill="#1aa81a"/><rect x="77.36" y="386.32" width="1.51" height="1.51" fill="#22d822"/><rect x="78.36" y="381.52" width="1.2" height="1.2" fill="#1aa81a"/><rect x="75.96" y="394.94" width="1.27" height="1.27" fill="#22d822"/><rect x="80.08" y="384.78" width="1.16" height="1.16" fill="#5af05a"/><rect x="74.77" y="400.67" width="0.82" height="0.82" fill="#1aa81a"/><rect x="77.2" y="380.04" width="0.87" height="0.87" fill="#5af05a"/><rect x="75.93" y="390.29" width="1.14" height="1.14" fill="#3ae83a"/><rect x="75.65" y="399.16" width="1.58" height="1.58" fill="#1aa81a"/><rect x="77.79" y="387.59" width="0.86" height="0.86" fill="#1aa81a"/><rect x="74.76" y="400.53" width="1.38" height="1.38" fill="#30a0d0"/><rect x="77.6" y="399.59" width="0.86" height="0.86" fill="#30a0d0"/><rect x="78.61" y="396.83" width="0.9" height="0.9" fill="#2a3af0"/><rect x="78.1" y="377.9" width="1.45" height="1.45" fill="#5af05a"/><rect x="75.83" y="399.18" width="1.5" height="1.5" fill="#3ae83a"/><rect x="74.48" y="411.37" width="0.99" height="0.99" fill="#5af05a"/><rect x="78.27" y="391.06" width="1.27" height="1.27" fill="#2a3af0"/><rect x="77.34" y="378.57" width="1.2" height="1.2" fill="#5af05a"/><rect x="75.1" y="397.15" width="1.28" height="1.28" fill="#3ae83a"/><rect x="74.45" y="398.25" width="1.47" height="1.47" fill="#2a3af0"/><rect x="76.89" y="388.57" width="1.09" height="1.09" fill="#3ae83a"/><rect x="73.92" y="406.63" width="1.31" height="1.31" fill="#22d822"/><rect x="76.49" y="395.52" width="0.89" height="0.89" fill="#22d822"/><rect x="77.1" y="384.56" width="1.1" height="1.1" fill="#5af05a"/><rect x="78.03" y="400.35" width="1.35" height="1.35" fill="#22d822"/><rect x="76.47" y="383.53" width="1.46" height="1.46" fill="#5af05a"/><rect x="73.34" y="414.68" width="1.56" height="1.56" fill="#5af05a"/><rect x="76.31" y="399.11" width="1.44" height="1.44" fill="#2a3af0"/><rect x="78.34" y="386.25" width="1.27" height="1.27" fill="#2a3af0"/><rect x="76.11" y="399.99" width="1.51" height="1.51" fill="#22d822"/><rect x="76.54" y="403.25" width="1.39" height="1.39" fill="#1aa81a"/><rect x="77.32" y="399.1" width="1.25" height="1.25" fill="#5af05a"/><rect x="74.77" y="402.22" width="1.41" height="1.41" fill="#5af05a"/>
<rect x="43.47" y="478.69" width="1.13" height="1.13" fill="#3ae83a"/><rect x="45.91" y="490.86" width="0.89" height="0.89" fill="#1aa81a"/><rect x="43.86" y="490" width="0.83" height="0.83" fill="#5af05a"/><rect x="43.83" y="494.3" width="1.18" height="1.18" fill="#5af05a"/><rect x="44.36" y="479.29" width="1.19" height="1.19" fill="#1aa81a"/><rect x="44.47" y="486.79" width="1.59" height="1.59" fill="#3ae83a"/><rect x="44.64" y="489.82" width="1.58" height="1.58" fill="#3ae83a"/><rect x="46.94" y="482.12" width="1.42" height="1.42" fill="#3ae83a"/><rect x="43.77" y="475.03" width="1.03" height="1.03" fill="#3ae83a"/><rect x="46.51" y="494.23" width="0.98" height="0.98" fill="#5af05a"/><rect x="43.8" y="473.69" width="1.15" height="1.15" fill="#3ae83a"/><rect x="44.99" y="498.86" width="1.29" height="1.29" fill="#5af05a"/><rect x="45.32" y="486.3" width="1.29" height="1.29" fill="#22d822"/><rect x="44.53" y="497.47" width="1.48" height="1.48" fill="#22d822"/><rect x="43.43" y="478.38" width="1.4" height="1.4" fill="#3ae83a"/><rect x="45.39" y="483.43" width="1.49" height="1.49" fill="#1aa81a"/><rect x="46.18" y="489.46" width="1.47" height="1.47" fill="#5af05a"/><rect x="43.54" y="491.34" width="1.07" height="1.07" fill="#22d822"/><rect x="43.11" y="484.51" width="1.07" height="1.07" fill="#22d822"/><rect x="45.4" y="483.79" width="0.94" height="0.94" fill="#22d822"/><rect x="45.72" y="481.54" width="0.98" height="0.98" fill="#22d822"/><rect x="46.26" y="480.71" width="1.56" height="1.56" fill="#1aa81a"/>
<rect x="98.84" y="427.92" width="1.06" height="1.06" fill="#1aa81a"/><rect x="98.64" y="429.27" width="1.58" height="1.58" fill="#5af05a"/><rect x="99.11" y="432.48" width="1.34" height="1.34" fill="#1aa81a"/><rect x="99.36" y="424.46" width="1.34" height="1.34" fill="#5af05a"/><rect x="100.26" y="426.1" width="0.94" height="0.94" fill="#22d822"/><rect x="98.3" y="431.2" width="1.42" height="1.42" fill="#1aa81a"/><rect x="100.34" y="432.93" width="1.44" height="1.44" fill="#3ae83a"/><rect x="99.2" y="425.05" width="1.22" height="1.22" fill="#3ae83a"/><rect x="98.58" y="432.38" width="1.17" height="1.17" fill="#5af05a"/><rect x="99.26" y="425.33" width="0.8" height="0.8" fill="#5af05a"/><rect x="101.27" y="429.55" width="1.49" height="1.49" fill="#1aa81a"/><rect x="100.14" y="431.65" width="1.54" height="1.54" fill="#1aa81a"/><rect x="99.52" y="425.94" width="1.15" height="1.15" fill="#22d822"/><rect x="99.42" y="427.1" width="0.95" height="0.95" fill="#3ae83a"/>
<g filter="url(#bl1)" fill="#2828f0">
<ellipse cx="60.3" cy="449" rx="3.2" ry="2.8"/>
<ellipse cx="84.4" cy="450" rx="2.6" ry="3.5"/>
<ellipse cx="106" cy="476.4" rx="3.5" ry="3.5"/>
<ellipse cx="151.3" cy="461.2" rx="2.8" ry="4.2"/>
<ellipse cx="47" cy="462" rx="2" ry="3"/>
<ellipse cx="93" cy="437" rx="1.8" ry="2.5"/>
<ellipse cx="74" cy="372.5" rx="3" ry="1.8"/>
</g>
<text x="15.4" y="386.6" font-size="14.1" fill="#f25a5a">pTM (CellTracker Red)</text>
<text x="15.4" y="400.6" font-size="14.1" fill="#3cf028">pTM OE menRNA</text>
<text x="15.4" y="415.2" font-size="14.1" fill="#3a26f0">DAPI</text>
<text x="156" y="525.8" font-size="12.4" text-anchor="middle" fill="#fff">50 μm</text>
<rect x="147" y="530.8" width="17.7" height="2.4" fill="#fff"/>
<text x="278.3" y="376.8" font-size="11.6">NCC biomarkers</text>
<text x="387.6" y="376.8" font-size="11.6">Pluripotency state</text>
<rect x="288.8" y="383.4" width="70.6" height="4.2" fill="#000"/>
<rect x="374.7" y="383.4" width="124.1" height="4.2" fill="#000"/>
<rect x="273.6" y="422.4" width="28.15" height="27.1" fill="#8fbcd8"/>
<rect x="273.6" y="449.5" width="28.15" height="27.1" fill="#ba7c82"/>
<rect x="273.6" y="487.5" width="28.15" height="27.1" fill="#ffffff"/>
<rect x="273.6" y="514.6" width="28.15" height="27.4" fill="#ffffff"/>
<rect x="301.75" y="422.4" width="28.15" height="27.1" fill="#d8b5b8"/>
<rect x="301.75" y="449.5" width="28.15" height="27.1" fill="#ba7c82"/>
<rect x="301.75" y="487.5" width="28.15" height="27.1" fill="#b0666c"/>
<rect x="301.75" y="514.6" width="28.15" height="27.4" fill="#dbb7ba"/>
<rect x="329.9" y="422.4" width="28.15" height="27.1" fill="#e3edf4"/>
<rect x="329.9" y="449.5" width="28.15" height="27.1" fill="#ba7c82"/>
<rect x="329.9" y="487.5" width="28.15" height="27.1" fill="#bf8389"/>
<rect x="329.9" y="514.6" width="28.15" height="27.4" fill="#8b1010"/>
<rect x="358.05" y="422.4" width="28.15" height="27.1" fill="#5a98c7"/>
<rect x="358.05" y="449.5" width="28.15" height="27.1" fill="#f3eeee"/>
<rect x="358.05" y="487.5" width="28.15" height="27.1" fill="#ffffff"/>
<rect x="358.05" y="514.6" width="28.15" height="27.4" fill="#f3eeee"/>
<rect x="386.2" y="422.4" width="28.15" height="27.1" fill="#e8d4d6"/>
<rect x="386.2" y="449.5" width="28.15" height="27.1" fill="#c98f94"/>
<rect x="386.2" y="487.5" width="28.15" height="27.1" fill="#ece0e1"/>
<rect x="386.2" y="514.6" width="28.15" height="27.4" fill="#ecdfe0"/>
<rect x="414.35" y="422.4" width="28.15" height="27.1" fill="#eef4f8"/>
<rect x="414.35" y="449.5" width="28.15" height="27.1" fill="#8a0f0f"/>
<rect x="414.35" y="487.5" width="28.15" height="27.1" fill="#ffffff"/>
<rect x="414.35" y="514.6" width="28.15" height="27.4" fill="#ecdfe0"/>
<rect x="442.5" y="422.4" width="28.15" height="27.1" fill="#eaf1f6"/>
<rect x="442.5" y="449.5" width="28.15" height="27.1" fill="#bd7f85"/>
<rect x="442.5" y="487.5" width="28.15" height="27.1" fill="#bf8489"/>
<rect x="442.5" y="514.6" width="28.15" height="27.4" fill="#c48a8f"/>
<rect x="470.65" y="422.4" width="28.15" height="27.1" fill="#e6d3d5"/>
<rect x="470.65" y="449.5" width="28.15" height="27.1" fill="#b0636a"/>
<rect x="470.65" y="487.5" width="28.15" height="27.1" fill="#efe6e7"/>
<rect x="470.65" y="514.6" width="28.15" height="27.4" fill="#c99197"/>
<line x1="301.75" y1="422.4" x2="301.75" y2="476.6" stroke="#999" stroke-width="0.4"/>
<line x1="301.75" y1="487.5" x2="301.75" y2="542" stroke="#999" stroke-width="0.5"/>
<line x1="329.9" y1="422.4" x2="329.9" y2="476.6" stroke="#999" stroke-width="0.4"/>
<line x1="329.9" y1="487.5" x2="329.9" y2="542" stroke="#999" stroke-width="0.5"/>
<line x1="358.05" y1="422.4" x2="358.05" y2="476.6" stroke="#999" stroke-width="0.4"/>
<line x1="358.05" y1="487.5" x2="358.05" y2="542" stroke="#999" stroke-width="0.5"/>
<line x1="386.2" y1="422.4" x2="386.2" y2="476.6" stroke="#999" stroke-width="0.4"/>
<line x1="386.2" y1="487.5" x2="386.2" y2="542" stroke="#999" stroke-width="0.5"/>
<line x1="414.35" y1="422.4" x2="414.35" y2="476.6" stroke="#999" stroke-width="0.4"/>
<line x1="414.35" y1="487.5" x2="414.35" y2="542" stroke="#999" stroke-width="0.5"/>
<line x1="442.5" y1="422.4" x2="442.5" y2="476.6" stroke="#999" stroke-width="0.4"/>
<line x1="442.5" y1="487.5" x2="442.5" y2="542" stroke="#999" stroke-width="0.5"/>
<line x1="470.65" y1="422.4" x2="470.65" y2="476.6" stroke="#999" stroke-width="0.4"/>
<line x1="470.65" y1="487.5" x2="470.65" y2="542" stroke="#999" stroke-width="0.5"/>
<line x1="273.6" y1="449.5" x2="498.8" y2="449.5" stroke="#999" stroke-width="0.4"/>
<line x1="273.6" y1="514.6" x2="498.8" y2="514.6" stroke="#aaa" stroke-width="0.5"/>
<path d="M273.6 542V487.5H498.8V542" stroke="#ccc" stroke-width="0.5" fill="none"/>
<text x="285.8" y="417.4" font-size="10.6" transform="rotate(-29 285.8 417.4)">NANOG</text>
<text x="317.8" y="417.4" font-size="10.6" transform="rotate(-29 317.8 417.4)">FOXC1</text>
<text x="344.8" y="417.4" font-size="10.6" transform="rotate(-29 344.8 417.4)">NES</text>
<text x="373.1" y="417.4" font-size="10.6" transform="rotate(-29 373.1 417.4)">ZFP42</text>
<text x="401.1" y="417.4" font-size="10.6" transform="rotate(-29 401.1 417.4)">TBX3</text>
<text x="424.6" y="417.4" font-size="10.6" transform="rotate(-29 424.6 417.4)">TFAP2C</text>
<text x="453.3" y="417.4" font-size="10.6" transform="rotate(-29 453.3 417.4)">DUSP6</text>
<text x="484" y="417.4" font-size="10.6" transform="rotate(-29 484 417.4)">Ki-67</text>
<text x="248.2" y="441.3" font-size="10.5">12 h</text>
<text x="248.2" y="463.4" font-size="10.5">48 h</text>
<text x="265.7" y="503" font-size="10.1" text-anchor="middle">U</text>
<text x="265.7" y="529.9" font-size="10.1" text-anchor="middle">T</text>
<text x="244.9" y="512.9" font-size="11.9" text-anchor="middle" transform="rotate(-90 244.9 512.9)">FPKM</text>
<text transform="translate(231.2 435.3) rotate(-90)" font-size="11.6" text-anchor="middle">log<tspan font-size="7" dy="2.8">10</tspan><tspan dy="-2.8">Fold change</tspan></text>
<text x="244.3" y="433" font-size="11.6" text-anchor="middle" transform="rotate(-90 244.3 433)">(menRNA/control)</text>
<linearGradient id="cb1" x1="0" y1="0" x2="0" y2="1"><stop offset="0" stop-color="#961a1e"/><stop offset="0.5" stop-color="#f5eaea"/><stop offset="0.62" stop-color="#eef4f9"/><stop offset="1" stop-color="#4b8fc6"/></linearGradient>
<linearGradient id="cb2" x1="0" y1="0" x2="0" y2="1"><stop offset="0" stop-color="#8e1114"/><stop offset="1" stop-color="#ffffff"/></linearGradient>
<rect x="516.1" y="425.1" width="8.8" height="33.2" fill="url(#cb1)"/>
<rect x="516.1" y="488" width="8.8" height="35.1" fill="url(#cb2)"/>
<text x="528.7" y="429.9" font-size="9.2">1.0</text>
<text x="528.7" y="439.9" font-size="9.2">0.5</text>
<text x="528.7" y="449.2" font-size="9.2">0</text>
<text x="528.7" y="459.2" font-size="9.2">- 0.5</text>
<text x="528.7" y="492" font-size="9.2">30</text>
<text x="528.7" y="504.2" font-size="9.2">20</text>
<text x="528.7" y="515.7" font-size="9.2">10</text>
<text x="528.7" y="526.4" font-size="9.2">0</text>
<circle cx="632.9" cy="417" r="1.4" stroke="#555" stroke-width="0.6" fill="none"/>
<circle cx="632.9" cy="419.6" r="1.4" stroke="#555" stroke-width="0.6" fill="none"/>
<circle cx="624.4" cy="435.5" r="1.4" stroke="#555" stroke-width="0.6" fill="none"/>
<circle cx="627.9" cy="436" r="1.4" stroke="#555" stroke-width="0.6" fill="none"/>
<circle cx="630.9" cy="435.3" r="1.4" stroke="#555" stroke-width="0.6" fill="none"/>
<circle cx="633.9" cy="435.8" r="1.4" stroke="#555" stroke-width="0.6" fill="none"/>
<circle cx="636.9" cy="435.3" r="1.4" stroke="#555" stroke-width="0.6" fill="none"/>
<circle cx="641.4" cy="435.5" r="1.4" stroke="#555" stroke-width="0.6" fill="none"/>
<circle cx="632.9" cy="440" r="1.4" stroke="#555" stroke-width="0.6" fill="none"/>
<circle cx="632.9" cy="443" r="1.4" stroke="#555" stroke-width="0.6" fill="none"/>
<circle cx="628.9" cy="446" r="1.4" stroke="#555" stroke-width="0.6" fill="none"/>
<circle cx="635.9" cy="446" r="1.4" stroke="#555" stroke-width="0.6" fill="none"/>
<circle cx="631.4" cy="449" r="1.4" stroke="#555" stroke-width="0.6" fill="none"/>
<circle cx="634.9" cy="449" r="1.4" stroke="#555" stroke-width="0.6" fill="none"/>
<circle cx="627.9" cy="451.5" r="1.4" stroke="#555" stroke-width="0.6" fill="none"/>
<circle cx="632.9" cy="451.5" r="1.4" stroke="#555" stroke-width="0.6" fill="none"/>
<circle cx="636.9" cy="451.5" r="1.4" stroke="#555" stroke-width="0.6" fill="none"/>
<circle cx="629.9" cy="454.5" r="1.4" stroke="#555" stroke-width="0.6" fill="none"/>
<circle cx="634.4" cy="454.5" r="1.4" stroke="#555" stroke-width="0.6" fill="none"/>
<circle cx="628.9" cy="457" r="1.4" stroke="#555" stroke-width="0.6" fill="none"/>
<circle cx="632.9" cy="457" r="1.4" stroke="#555" stroke-width="0.6" fill="none"/>
<circle cx="636.4" cy="457" r="1.4" stroke="#555" stroke-width="0.6" fill="none"/>
<circle cx="632.9" cy="460" r="1.4" stroke="#555" stroke-width="0.6" fill="none"/>
<circle cx="631.4" cy="463" r="1.4" stroke="#555" stroke-width="0.6" fill="none"/>
<circle cx="659" cy="406" r="1.45" stroke="#e83a3a" stroke-width="0.6" fill="none"/>
<circle cx="664" cy="405.5" r="1.45" stroke="#e83a3a" stroke-width="0.6" fill="none"/>
<circle cx="655.5" cy="419" r="1.45" stroke="#e83a3a" stroke-width="0.6" fill="none"/>
<circle cx="661.5" cy="418" r="1.45" stroke="#e83a3a" stroke-width="0.6" fill="none"/>
<circle cx="666" cy="419" r="1.45" stroke="#e83a3a" stroke-width="0.6" fill="none"/>
<circle cx="654" cy="424" r="1.45" stroke="#e83a3a" stroke-width="0.6" fill="none"/>
<circle cx="660.5" cy="424" r="1.45" stroke="#e83a3a" stroke-width="0.6" fill="none"/>
<circle cx="667" cy="425" r="1.45" stroke="#e83a3a" stroke-width="0.6" fill="none"/>
<circle cx="655" cy="430" r="1.45" stroke="#e83a3a" stroke-width="0.6" fill="none"/>
<circle cx="659.5" cy="432" r="1.45" stroke="#e83a3a" stroke-width="0.6" fill="none"/>
<circle cx="662.5" cy="430" r="1.45" stroke="#e83a3a" stroke-width="0.6" fill="none"/>
<circle cx="666" cy="432" r="1.45" stroke="#e83a3a" stroke-width="0.6" fill="none"/>
<circle cx="668" cy="433" r="1.45" stroke="#e83a3a" stroke-width="0.6" fill="none"/>
<circle cx="655" cy="437" r="1.45" stroke="#e83a3a" stroke-width="0.6" fill="none"/>
<circle cx="660" cy="436" r="1.45" stroke="#e83a3a" stroke-width="0.6" fill="none"/>
<circle cx="664" cy="437" r="1.45" stroke="#e83a3a" stroke-width="0.6" fill="none"/>
<circle cx="668" cy="437" r="1.45" stroke="#e83a3a" stroke-width="0.6" fill="none"/>
<circle cx="653.5" cy="441" r="1.45" stroke="#e83a3a" stroke-width="0.6" fill="none"/>
<circle cx="661.5" cy="442" r="1.45" stroke="#e83a3a" stroke-width="0.6" fill="none"/>
<circle cx="658.5" cy="445" r="1.45" stroke="#e83a3a" stroke-width="0.6" fill="none"/>
<circle cx="661.5" cy="450" r="1.45" stroke="#e83a3a" stroke-width="0.6" fill="none"/>
<circle cx="667.5" cy="428" r="1.45" stroke="#e83a3a" stroke-width="0.6" fill="none"/>
<circle cx="657.5" cy="438" r="1.45" stroke="#e83a3a" stroke-width="0.6" fill="none"/>
<path d="M629.4 432.9H636.4M632.9 432.9V457.5M629.4 457.5H636.4" stroke="#111" stroke-width="0.9" fill="none"/>
<path d="M658 419.4H665M661.5 419.4V441.2M658 441.2H665" stroke="#000" stroke-width="0.9" fill="none"/>
<text transform="translate(594.2 434.5) rotate(-90)" font-size="10.5" text-anchor="middle">pTM cellularity/mm<tspan font-size="7" dy="-3.8">2</tspan></text>
<text x="635.5" y="508.5" font-size="9.9" text-anchor="end" transform="rotate(-31 635.5 508.5)">48h-Control</text>
<text x="664" y="508.5" font-size="9.9" text-anchor="end" transform="rotate(-31 664 508.5)">48h-menRNA</text>
<text x="556.1" y="305.3" font-size="10.4" text-anchor="middle" fill="#fff">10 μm</text>
<rect x="553.3" y="310.5" width="8.1" height="1.8" fill="#fff"/>
</svg>
</body></html>
